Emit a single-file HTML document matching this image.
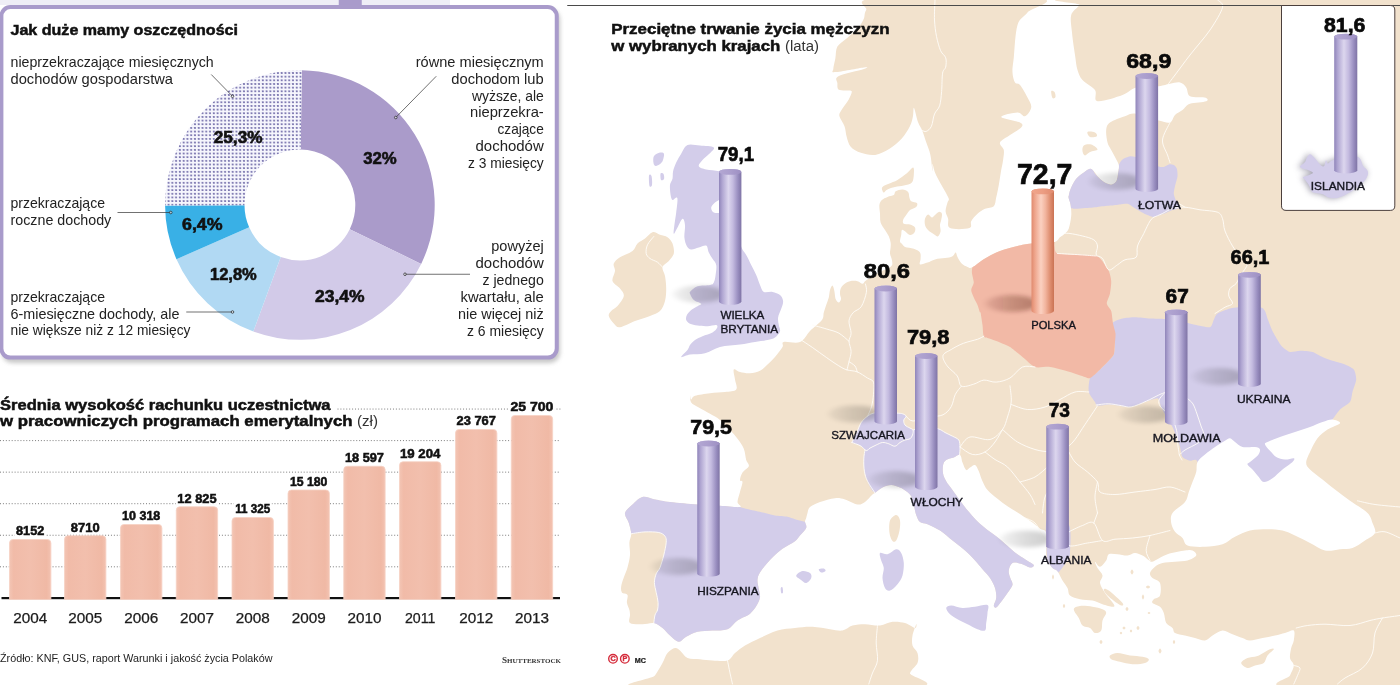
<!DOCTYPE html>
<html lang="pl"><head><meta charset="utf-8"><title>Infografika</title>
<style>
html,body{margin:0;padding:0;background:#ffffff;}
body{width:1400px;height:685px;overflow:hidden;font-family:"Liberation Sans", sans-serif;}
svg{display:block;font-family:"Liberation Sans", sans-serif;opacity:0.9999;}
</style></head><body>
<svg width="1400" height="685" viewBox="0 0 1400 685">
<defs>
<linearGradient id="gp" x1="0" x2="1" y1="0" y2="0">
 <stop offset="0" stop-color="#9085ba"/><stop offset="0.15" stop-color="#b0a6d2"/>
 <stop offset="0.42" stop-color="#dcd6ee"/><stop offset="0.62" stop-color="#c4bbe0"/>
 <stop offset="0.85" stop-color="#988dbf"/><stop offset="1" stop-color="#7f74a5"/>
</linearGradient>
<linearGradient id="gs" x1="0" x2="1" y1="0" y2="0">
 <stop offset="0" stop-color="#e08a6e"/><stop offset="0.15" stop-color="#eea58c"/>
 <stop offset="0.42" stop-color="#fbd1c1"/><stop offset="0.62" stop-color="#f2b59f"/>
 <stop offset="0.85" stop-color="#dc8a6c"/><stop offset="1" stop-color="#ca7354"/>
</linearGradient>
<linearGradient id="gsh" x1="0" x2="1" y1="0" y2="0">
 <stop offset="0" stop-color="#000" stop-opacity="0.25"/><stop offset="0.5" stop-color="#000" stop-opacity="0.7"/><stop offset="1" stop-color="#000" stop-opacity="1"/>
</linearGradient>
<linearGradient id="gshs" x1="0" x2="1" y1="0" y2="0">
 <stop offset="0" stop-color="#480c00" stop-opacity="0.25"/><stop offset="0.5" stop-color="#480c00" stop-opacity="0.7"/><stop offset="1" stop-color="#480c00" stop-opacity="1"/>
</linearGradient>
<linearGradient id="gcap" x1="0" x2="1" y1="0" y2="0">
 <stop offset="0" stop-color="#b3a7d3"/><stop offset="0.5" stop-color="#ab9ecd"/><stop offset="1" stop-color="#9d8fc3"/>
</linearGradient>
<linearGradient id="gcaps" x1="0" x2="1" y1="0" y2="0">
 <stop offset="0" stop-color="#f0a58b"/><stop offset="0.5" stop-color="#ec9d83"/><stop offset="1" stop-color="#e08a6e"/>
</linearGradient>
<linearGradient id="gbar" x1="0" x2="1" y1="0" y2="0">
 <stop offset="0" stop-color="#f3c5b4"/><stop offset="0.1" stop-color="#f1bba8"/><stop offset="0.5" stop-color="#f2bfad"/><stop offset="0.9" stop-color="#f0b9a5"/><stop offset="1" stop-color="#f3c3b2"/>
</linearGradient>
<pattern id="dots" width="3.77" height="3.66" patternUnits="userSpaceOnUse" x="0.87" y="1.61">
 <rect width="3.77" height="3.66" fill="#f6f6fd"/><rect x="0.9" y="0.9" width="1.9" height="1.9" rx="0.4" fill="#7570ac"/>
</pattern>
<filter id="blur3" x="-50%" y="-50%" width="200%" height="200%"><feGaussianBlur stdDeviation="3"/></filter>
<filter id="blur2" x="-50%" y="-50%" width="200%" height="200%"><feGaussianBlur stdDeviation="2"/></filter>
<filter id="blur4" x="-50%" y="-100%" width="200%" height="300%"><feGaussianBlur stdDeviation="3 2"/></filter>
<filter id="soft" x="-5%" y="-5%" width="110%" height="110%"><feGaussianBlur stdDeviation="0.45"/></filter>

<clipPath id="cmain"><path d="M1080.0,-2.0 C1023.2,0.5 1081.0,2.2 1079.5,5.0 C1078.0,7.8 1072.5,10.4 1071.2,15.0 C1070.0,19.6 1071.4,25.8 1072.0,32.5 C1072.6,39.2 1074.1,48.8 1075.0,55.0 C1075.9,61.2 1076.2,65.8 1077.5,70.0 C1078.8,74.2 1079.6,76.7 1082.5,80.0 C1085.4,83.3 1092.5,86.5 1095.0,90.0 C1097.5,93.5 1092.9,100.4 1097.5,101.2 C1102.1,102.1 1116.0,97.3 1122.5,95.0 C1129.0,92.7 1130.2,89.0 1136.2,87.5 C1142.3,86.0 1153.1,86.9 1158.8,86.2 C1164.4,85.6 1166.5,84.4 1170.0,83.8 C1173.5,83.1 1177.3,81.9 1180.0,82.5 C1182.7,83.1 1184.6,85.2 1186.2,87.5 C1187.9,89.8 1186.9,94.6 1190.0,96.2 C1193.1,97.9 1202.3,96.7 1205.0,97.5 C1207.7,98.3 1208.8,100.2 1206.2,101.2 C1203.8,102.3 1194.0,102.3 1190.0,103.8 C1186.0,105.2 1185.0,108.1 1182.5,110.0 C1180.0,111.9 1177.1,112.9 1175.0,115.0 C1172.9,117.1 1172.7,121.6 1170.0,122.5 C1167.3,123.4 1164.4,122.0 1158.8,120.5 C1153.1,119.0 1141.9,114.5 1136.2,113.8 C1130.6,113.0 1129.4,114.8 1125.0,116.2 C1120.6,117.7 1113.1,120.2 1110.0,122.5 C1106.9,124.8 1106.7,126.7 1106.2,130.0 C1105.8,133.3 1106.7,139.2 1107.5,142.5 C1108.3,145.8 1110.0,147.6 1111.2,150.0 C1112.5,152.4 1113.8,154.5 1115.0,157.0 C1116.2,159.5 1118.2,162.4 1118.8,165.0 C1119.3,167.6 1118.5,169.8 1118.1,172.5 C1117.7,175.2 1117.4,179.3 1116.2,181.2 C1115.1,183.2 1113.1,184.2 1111.2,184.4 C1109.4,184.6 1107.1,183.7 1105.0,182.5 C1102.9,181.3 1100.6,179.4 1098.8,177.5 C1096.9,175.6 1095.2,172.7 1093.8,171.2 C1092.3,169.8 1091.7,168.5 1090.0,168.8 C1088.3,169.0 1086.0,170.8 1083.8,172.5 C1081.5,174.2 1078.3,176.2 1076.2,178.8 C1074.2,181.2 1072.5,184.8 1071.2,187.5 C1070.0,190.2 1069.2,193.1 1068.8,195.0 C1068.3,196.9 1068.4,197.1 1068.8,198.8 C1069.1,200.4 1070.2,202.1 1070.6,205.0 C1071.0,207.9 1071.6,212.1 1071.2,216.0 C1070.9,219.9 1069.8,225.6 1068.8,228.5 C1067.7,231.4 1066.5,232.0 1065.0,233.5 C1063.5,235.0 1061.9,235.8 1060.0,237.2 C1058.1,238.7 1058.5,241.2 1053.8,242.2 C1049.0,243.3 1037.3,242.9 1031.2,243.5 C1025.2,244.1 1022.7,244.8 1017.5,246.0 C1012.3,247.2 1005.4,248.9 1000.0,251.0 C994.6,253.1 989.6,255.8 985.0,258.5 C980.4,261.2 975.4,265.9 972.5,267.2 C969.6,268.6 969.3,267.5 967.5,266.9 C965.7,266.3 963.5,265.4 961.9,263.8 C960.2,262.1 958.5,258.8 957.5,256.9 C956.5,255.0 956.5,252.6 955.6,252.5 C954.8,252.4 954.3,255.3 952.5,256.2 C950.7,257.2 947.9,257.6 945.0,258.1 C942.1,258.6 937.9,258.6 935.0,259.4 C932.1,260.1 930.0,261.7 927.5,262.5 C925.0,263.3 921.1,265.0 920.0,264.4 C918.9,263.8 920.6,260.7 920.6,258.8 C920.6,256.8 921.1,254.2 920.0,252.5 C918.9,250.8 916.2,249.7 913.8,248.8 C911.2,247.8 907.0,247.7 905.0,246.9 C903.0,246.0 902.7,244.7 901.9,243.8 C901.0,242.8 900.1,242.7 900.0,241.2 C899.9,239.8 900.9,236.9 901.2,235.0 C901.6,233.1 901.2,230.6 901.9,230.0 C902.5,229.4 903.6,230.4 905.0,231.2 C906.4,232.1 908.4,234.8 910.0,235.0 C911.6,235.2 913.5,233.8 914.4,232.5 C915.2,231.2 915.7,228.9 915.0,227.5 C914.3,226.1 911.9,225.0 910.0,224.4 C908.1,223.8 904.9,224.5 903.8,223.8 C902.6,223.0 902.7,221.5 903.1,220.0 C903.5,218.5 905.1,216.7 906.2,215.0 C907.4,213.3 908.3,211.4 910.0,210.0 C911.7,208.6 915.1,208.0 916.2,206.9 C917.4,205.7 917.7,204.1 916.9,203.1 C916.0,202.2 912.5,202.2 911.2,201.2 C910.0,200.3 909.9,199.1 909.4,197.5 C908.9,195.9 909.3,193.2 908.1,191.9 C907.0,190.5 904.6,189.5 902.5,189.4 C900.4,189.3 897.1,190.3 895.6,191.2 C894.2,192.2 895.1,194.1 893.8,195.0 C892.4,195.9 889.5,196.0 887.5,196.9 C885.5,197.7 883.2,198.6 881.9,200.0 C880.5,201.4 879.7,202.7 879.4,205.0 C879.1,207.3 879.8,210.8 880.0,213.8 C880.2,216.7 879.8,219.8 880.6,222.5 C881.5,225.2 883.6,227.7 885.0,230.0 C886.4,232.3 887.8,234.2 888.8,236.2 C889.7,238.3 890.3,240.6 890.6,242.5 C890.9,244.4 890.7,245.6 890.6,247.5 C890.5,249.4 889.8,251.7 890.0,253.8 C890.2,255.8 891.7,257.9 891.9,260.0 C892.1,262.1 893.2,264.2 891.2,266.2 C889.3,268.2 883.5,270.0 880.0,272.0 C876.5,274.0 872.5,276.5 870.0,278.0 C867.5,279.5 866.2,280.3 865.0,281.2 C863.8,282.2 863.8,283.8 862.5,283.8 C861.2,283.8 859.6,281.7 857.5,281.2 C855.4,280.8 852.3,280.7 850.0,281.2 C847.7,281.8 845.3,283.1 843.8,284.4 C842.2,285.6 841.2,287.1 840.6,288.8 C840.0,290.4 839.9,292.3 840.0,294.0 C840.1,295.7 841.2,297.6 841.0,299.0 C840.8,300.4 839.6,302.5 838.8,302.5 C837.9,302.5 836.3,300.9 835.6,299.0 C834.9,297.1 834.9,293.5 834.4,291.2 C833.9,289.0 833.2,285.8 832.5,285.6 C831.8,285.4 830.6,288.0 830.0,290.0 C829.4,292.0 829.4,295.0 828.8,297.5 C828.1,300.0 827.1,302.5 826.2,305.0 C825.4,307.5 824.5,310.0 823.8,312.5 C823.0,315.0 824.2,316.9 821.9,320.0 C819.6,323.1 813.6,327.3 810.0,331.0 C806.4,334.7 804.4,340.2 800.0,342.0 C795.6,343.8 786.7,341.2 783.8,342.0 C780.8,342.8 784.0,344.5 782.5,347.0 C781.0,349.5 777.5,354.1 775.0,357.0 C772.5,359.9 770.0,362.2 767.5,364.5 C765.0,366.8 762.9,369.3 760.0,370.8 C757.1,372.2 753.3,373.0 750.0,373.2 C746.7,373.5 742.7,372.6 740.0,372.0 C737.3,371.4 734.6,368.2 733.8,369.5 C732.9,370.8 734.6,376.2 735.0,379.5 C735.4,382.8 737.9,387.4 736.2,389.5 C734.6,391.6 729.4,391.4 725.0,392.0 C720.6,392.6 715.0,392.6 710.0,393.2 C705.0,393.9 698.1,394.7 695.0,395.8 C691.9,396.8 692.1,399.6 691.2,399.5 C690.4,399.4 690.0,394.5 690.0,395.0 C690.0,395.5 689.8,400.4 691.2,402.5 C692.7,404.6 695.6,405.6 698.8,407.5 C701.9,409.4 706.5,411.7 710.0,413.8 C713.5,415.8 716.7,417.3 720.0,420.0 C723.3,422.7 727.1,426.9 730.0,430.0 C732.9,433.1 735.2,435.6 737.5,438.8 C739.8,441.9 742.3,445.2 743.8,448.8 C745.2,452.3 745.4,457.1 746.2,460.0 C747.1,462.9 749.4,464.2 748.8,466.2 C748.1,468.3 744.0,470.2 742.5,472.5 C741.0,474.8 740.0,478.4 740.0,480.0 C740.0,481.6 742.5,480.0 742.5,482.0 C742.5,484.0 740.8,488.7 740.0,492.0 C739.2,495.3 737.5,499.5 737.5,502.0 C737.5,504.5 742.9,506.4 740.0,507.0 C737.1,507.6 727.1,506.2 720.0,505.8 C712.9,505.3 705.8,505.1 697.5,504.5 C689.2,503.9 677.1,502.8 670.0,502.0 C662.9,501.2 659.6,500.3 655.0,499.5 C650.4,498.7 646.2,496.2 642.5,497.0 C638.8,497.8 635.4,501.8 632.5,504.5 C629.6,507.2 625.6,509.9 625.0,513.0 C624.4,516.1 627.7,519.5 628.8,523.0 C629.8,526.5 631.1,530.5 631.2,533.8 C631.4,537.0 629.6,539.0 629.4,542.5 C629.2,546.0 630.3,550.8 630.0,555.0 C629.7,559.2 628.5,563.8 627.5,567.5 C626.5,571.2 624.8,574.4 623.8,577.5 C622.7,580.6 621.6,583.8 621.2,586.2 C620.9,588.8 620.9,591.0 621.9,592.5 C622.9,594.0 626.7,593.3 627.5,595.0 C628.3,596.7 626.6,600.0 626.9,602.5 C627.2,605.0 628.9,607.9 629.4,610.0 C629.9,612.1 629.9,612.8 630.0,615.0 C630.1,617.2 627.9,621.5 630.0,623.0 C632.1,624.5 638.5,624.2 642.5,624.2 C646.5,624.2 650.4,622.4 653.8,623.0 C657.1,623.6 659.8,625.9 662.5,628.0 C665.2,630.1 667.3,633.2 670.0,635.5 C672.7,637.8 676.0,641.5 678.8,641.8 C681.5,642.0 683.1,638.4 686.2,636.8 C689.4,635.1 693.1,632.8 697.5,631.8 C701.9,630.7 707.5,630.9 712.5,630.5 C717.5,630.1 723.3,630.9 727.5,629.2 C731.7,627.6 734.2,622.8 737.5,620.5 C740.8,618.2 745.2,616.8 747.5,615.5 C749.8,614.2 749.8,614.0 751.2,612.5 C752.7,611.0 754.8,608.8 756.2,606.2 C757.7,603.8 759.6,600.4 760.0,597.5 C760.4,594.6 759.2,591.7 758.8,588.8 C758.3,585.8 757.3,582.7 757.5,580.0 C757.7,577.3 757.9,575.8 760.0,572.5 C762.1,569.2 766.2,564.0 770.0,560.0 C773.8,556.0 778.3,551.9 782.5,548.8 C786.7,545.6 792.1,543.5 795.0,541.2 C797.9,539.0 798.1,537.7 800.0,535.5 C801.9,533.3 805.4,530.3 806.2,528.0 C807.1,525.7 805.0,523.4 805.0,521.8 C805.0,520.1 805.8,519.5 806.2,518.0 C806.7,516.5 806.9,514.8 807.5,513.0 C808.1,511.2 807.9,508.8 810.0,507.0 C812.1,505.2 815.8,503.5 820.0,502.0 C824.2,500.5 830.8,498.7 835.0,498.2 C839.2,497.8 841.2,498.5 845.0,499.5 C848.8,500.5 854.2,504.1 857.5,504.5 C860.8,504.9 862.5,503.7 865.0,502.0 C867.5,500.3 870.8,496.0 872.5,494.5 C874.2,493.0 873.3,494.2 875.0,493.0 C876.7,491.8 879.8,488.8 882.5,487.5 C885.2,486.2 888.3,485.0 891.2,485.0 C894.2,485.0 897.5,486.5 900.0,487.5 C902.5,488.5 904.4,489.8 906.2,491.2 C908.1,492.7 910.0,494.0 911.2,496.2 C912.5,498.5 912.9,501.9 913.8,505.0 C914.6,508.1 915.2,512.2 916.2,515.0 C917.3,517.8 918.1,520.5 920.0,522.0 C921.9,523.5 924.2,522.8 927.5,524.2 C930.8,525.7 935.8,527.8 940.0,530.5 C944.2,533.2 948.3,537.2 952.5,540.5 C956.7,543.8 961.2,547.2 965.0,550.5 C968.8,553.8 972.1,557.4 975.0,560.5 C977.9,563.6 980.0,566.3 982.5,569.2 C985.0,572.2 987.9,574.9 990.0,578.0 C992.1,581.1 994.0,584.7 995.0,588.0 C996.0,591.3 996.5,595.1 996.2,598.0 C996.0,600.9 993.8,603.9 993.8,605.5 C993.8,607.1 995.0,608.1 996.2,607.5 C997.5,606.9 999.4,604.2 1001.2,601.8 C1003.1,599.3 1005.6,595.8 1007.5,593.0 C1009.4,590.2 1012.0,587.4 1012.5,585.0 C1013.0,582.6 1011.2,580.8 1010.6,578.8 C1010.0,576.7 1008.9,574.6 1008.8,572.5 C1008.6,570.4 1009.2,567.9 1010.0,566.2 C1010.8,564.6 1011.9,562.9 1013.8,562.5 C1015.6,562.1 1018.5,562.9 1021.2,563.8 C1024.0,564.6 1027.9,567.3 1030.0,567.5 C1032.1,567.7 1034.4,566.2 1033.8,565.0 C1033.1,563.8 1029.4,562.1 1026.2,560.0 C1023.1,557.9 1018.5,555.2 1015.0,552.5 C1011.5,549.8 1008.1,546.5 1005.0,543.8 C1001.9,541.0 999.2,538.5 996.2,536.2 C993.3,534.0 990.2,532.1 987.5,530.0 C984.8,527.9 982.3,525.8 980.0,523.8 C977.7,521.7 976.0,520.0 973.8,517.5 C971.5,515.0 968.8,511.9 966.2,508.8 C963.8,505.6 961.0,501.9 958.8,498.8 C956.5,495.6 954.6,492.9 952.5,490.0 C950.4,487.1 947.8,484.0 946.2,481.2 C944.7,478.5 943.6,476.5 943.1,473.8 C942.6,471.0 942.6,467.3 943.1,465.0 C943.6,462.7 944.5,461.2 946.2,460.0 C948.0,458.8 951.5,458.3 953.8,457.5 C956.0,456.7 958.5,454.2 960.0,455.0 C961.5,455.8 961.5,460.0 962.5,462.5 C963.5,465.0 965.0,469.2 966.2,470.0 C967.5,470.8 968.5,468.3 970.0,467.5 C971.5,466.7 973.5,464.4 975.0,465.0 C976.5,465.6 977.5,468.5 978.8,471.2 C980.0,474.0 981.0,478.1 982.5,481.2 C984.0,484.4 985.0,487.1 987.5,490.0 C990.0,492.9 994.2,496.0 997.5,498.8 C1000.8,501.5 1004.2,504.0 1007.5,506.2 C1010.8,508.5 1014.6,510.6 1017.5,512.5 C1020.4,514.4 1022.5,515.8 1025.0,517.5 C1027.5,519.2 1030.0,520.6 1032.5,522.5 C1035.0,524.4 1037.7,527.1 1040.0,528.8 C1042.3,530.4 1045.2,529.2 1046.2,532.5 C1047.3,535.8 1046.2,545.0 1046.2,548.8 C1046.2,552.5 1045.9,552.9 1046.2,555.0 C1046.6,557.1 1047.1,559.1 1048.1,561.2 C1049.1,563.4 1050.9,566.4 1052.5,568.1 C1054.1,569.8 1055.8,569.2 1057.5,571.2 C1059.2,573.3 1060.8,577.7 1062.5,580.5 C1064.2,583.3 1066.2,585.5 1067.5,588.0 C1068.8,590.5 1067.9,593.6 1070.0,595.5 C1072.1,597.4 1076.2,598.4 1080.0,599.2 C1083.8,600.1 1088.8,599.7 1092.5,600.5 C1096.2,601.3 1099.2,603.2 1102.5,604.2 C1105.8,605.3 1110.6,606.8 1112.5,606.8 C1114.4,606.8 1115.0,606.5 1113.8,604.2 C1112.5,602.0 1107.3,596.5 1105.0,593.0 C1102.7,589.5 1100.4,585.9 1100.0,583.0 C1099.6,580.1 1102.9,578.0 1102.5,575.5 C1102.1,573.0 1098.8,570.3 1097.5,568.0 C1096.2,565.7 1094.6,562.0 1095.0,561.8 C1095.4,561.5 1098.1,567.0 1100.0,566.8 C1101.9,566.5 1104.8,562.6 1106.2,560.5 C1107.7,558.4 1106.9,555.3 1108.8,554.2 C1110.6,553.2 1114.4,554.0 1117.5,554.2 C1120.6,554.5 1124.6,555.7 1127.5,555.5 C1130.4,555.3 1132.5,553.0 1135.0,553.0 C1137.5,553.0 1140.4,554.5 1142.5,555.5 C1144.6,556.5 1146.0,558.2 1147.5,559.2 C1149.0,560.3 1150.0,561.5 1151.2,561.8 C1152.5,562.0 1152.3,561.8 1155.0,560.5 C1157.7,559.2 1162.5,555.9 1167.5,554.2 C1172.5,552.6 1180.8,551.1 1185.0,550.5 C1189.2,549.9 1190.6,549.7 1192.5,550.5 C1194.4,551.3 1197.1,553.8 1196.2,555.5 C1195.4,557.2 1191.0,559.5 1187.5,560.5 C1184.0,561.5 1179.2,561.3 1175.0,561.8 C1170.8,562.2 1165.8,562.2 1162.5,563.0 C1159.2,563.8 1157.1,565.1 1155.0,566.8 C1152.9,568.4 1150.4,571.1 1150.0,573.0 C1149.6,574.9 1150.8,576.3 1152.5,578.0 C1154.2,579.7 1158.8,580.1 1160.0,583.0 C1161.2,585.9 1161.0,592.8 1160.0,595.5 C1159.0,598.2 1155.0,598.0 1153.8,599.2 C1152.5,600.5 1151.5,601.8 1152.5,603.0 C1153.5,604.2 1158.1,605.1 1160.0,606.8 C1161.9,608.4 1162.7,610.3 1163.8,613.0 C1164.8,615.7 1164.8,620.5 1166.2,623.0 C1167.7,625.5 1171.0,626.3 1172.5,628.0 C1174.0,629.7 1172.9,631.8 1175.0,633.0 C1177.1,634.2 1181.7,634.7 1185.0,635.5 C1188.3,636.3 1191.7,637.2 1195.0,638.0 C1198.3,638.8 1202.1,640.9 1205.0,640.5 C1207.9,640.1 1209.6,637.2 1212.5,635.5 C1215.4,633.8 1219.2,630.7 1222.5,630.5 C1225.8,630.3 1229.2,633.0 1232.5,634.2 C1235.8,635.5 1239.6,637.0 1242.5,638.0 C1245.4,639.0 1246.7,640.5 1250.0,640.5 C1253.3,640.5 1258.3,638.8 1262.5,638.0 C1266.7,637.2 1271.2,636.3 1275.0,635.5 C1278.8,634.7 1281.9,633.8 1285.0,633.0 C1288.1,632.2 1292.3,629.2 1293.8,630.5 C1295.2,631.8 1294.2,637.6 1293.8,640.5 C1293.3,643.4 1291.9,645.1 1291.2,648.0 C1290.6,650.9 1289.6,655.1 1290.0,658.0 C1290.4,660.9 1293.8,662.6 1293.8,665.5 C1293.8,668.4 1291.5,671.8 1290.0,675.5 C1288.5,679.2 1263.3,683.9 1285.0,688.0 C1306.7,692.1 1397.5,816.3 1420.0,700.0 C1442.5,583.7 1476.7,107.0 1420.0,-10.0 C1363.3,-127.0 1136.8,-4.5 1080.0,-2.0Z"/></clipPath>
<clipPath id="cmap"><rect x="566" y="0" width="834" height="685"/></clipPath>
</defs>
<rect x="0" y="0" width="450" height="5" fill="#efeef6"/>
<rect x="338.75" y="0" width="23" height="6" fill="#a99bcb"/>
<rect x="2" y="9" width="558" height="354" rx="10" fill="#9a9a9a" opacity="0.55" filter="url(#blur2)"/>
<rect x="1.4" y="7.1" width="555.35" height="350.5" rx="9" fill="#ffffff" stroke="#a99bcb" stroke-width="4"/>
<text x="10.50" y="34.50" font-size="15" font-weight="bold" stroke="#111" stroke-width="0.5" text-anchor="start" textLength="227.50" lengthAdjust="spacingAndGlyphs" fill="#111" >Jak duże mamy oszczędności</text>
<path d="M301.78,70.21 A134.8,134.8 0 0 1 421.16,263.88 L349.74,229.20 A55.4,55.4 0 0 0 300.67,149.61Z" fill="#aa9bca"/>
<path d="M421.16,263.88 A134.8,134.8 0 0 1 253.35,331.51 L280.77,256.99 A55.4,55.4 0 0 0 349.74,229.20Z" fill="#d2cae8"/>
<path d="M253.35,331.51 A134.8,134.8 0 0 1 176.47,259.18 L249.17,227.27 A55.4,55.4 0 0 0 280.77,256.99Z" fill="#b1d9f3"/>
<path d="M176.47,259.18 A134.8,134.8 0 0 1 165.10,205.47 L244.50,205.19 A55.4,55.4 0 0 0 249.17,227.27Z" fill="#39b0e6"/>
<path d="M165.10,205.47 A134.8,134.8 0 0 1 301.78,70.21 L300.67,149.61 A55.4,55.4 0 0 0 244.50,205.19Z" fill="url(#dots)"/>
<text x="213.75" y="143.00" font-size="16" font-weight="bold" stroke="#111" stroke-width="0.6" text-anchor="start" textLength="48.75" lengthAdjust="spacingAndGlyphs" fill="#111" >25,3%</text>
<text x="363.25" y="164.25" font-size="16" font-weight="bold" stroke="#111" stroke-width="0.6" text-anchor="start" textLength="33.50" lengthAdjust="spacingAndGlyphs" fill="#111" >32%</text>
<text x="182.00" y="230.00" font-size="16" font-weight="bold" stroke="#111" stroke-width="0.6" text-anchor="start" textLength="40.50" lengthAdjust="spacingAndGlyphs" fill="#111" >6,4%</text>
<text x="210.00" y="280.00" font-size="16" font-weight="bold" stroke="#111" stroke-width="0.6" text-anchor="start" textLength="46.75" lengthAdjust="spacingAndGlyphs" fill="#111" >12,8%</text>
<text x="315.00" y="301.75" font-size="16" font-weight="bold" stroke="#111" stroke-width="0.6" text-anchor="start" textLength="49.50" lengthAdjust="spacingAndGlyphs" fill="#111" >23,4%</text>
<text x="10.50" y="67.00" font-size="14.8" text-anchor="start" textLength="203.25" lengthAdjust="spacingAndGlyphs" fill="#222" >nieprzekraczające miesięcznych</text>
<text x="10.50" y="83.75" font-size="14.8" text-anchor="start" textLength="162.50" lengthAdjust="spacingAndGlyphs" fill="#222" >dochodów gospodarstwa</text>
<text x="10.50" y="208.00" font-size="14.8" text-anchor="start" textLength="94.50" lengthAdjust="spacingAndGlyphs" fill="#222" >przekraczające</text>
<text x="10.50" y="224.50" font-size="14.8" text-anchor="start" textLength="100.75" lengthAdjust="spacingAndGlyphs" fill="#222" >roczne dochody</text>
<text x="10.50" y="302.00" font-size="14.8" text-anchor="start" textLength="94.50" lengthAdjust="spacingAndGlyphs" fill="#222" >przekraczające</text>
<text x="10.50" y="318.75" font-size="14.8" text-anchor="start" textLength="169.00" lengthAdjust="spacingAndGlyphs" fill="#222" >6-miesięczne dochody, ale</text>
<text x="10.50" y="335.00" font-size="14.8" text-anchor="start" textLength="180.00" lengthAdjust="spacingAndGlyphs" fill="#222" >nie większe niż z 12 miesięcy</text>
<text x="415.75" y="67.00" font-size="14.8" text-anchor="start" textLength="128.00" lengthAdjust="spacingAndGlyphs" fill="#222" >równe miesięcznym</text>
<text x="451.25" y="83.75" font-size="14.8" text-anchor="start" textLength="92.50" lengthAdjust="spacingAndGlyphs" fill="#222" >dochodom lub</text>
<text x="472.00" y="100.50" font-size="14.8" text-anchor="start" textLength="71.75" lengthAdjust="spacingAndGlyphs" fill="#222" >wyższe, ale</text>
<text x="470.00" y="117.25" font-size="14.8" text-anchor="start" textLength="73.75" lengthAdjust="spacingAndGlyphs" fill="#222" >nieprzekra-</text>
<text x="497.50" y="134.00" font-size="14.8" text-anchor="start" textLength="46.25" lengthAdjust="spacingAndGlyphs" fill="#222" >czające</text>
<text x="475.50" y="150.75" font-size="14.8" text-anchor="start" textLength="68.25" lengthAdjust="spacingAndGlyphs" fill="#222" >dochodów</text>
<text x="468.00" y="167.50" font-size="14.8" text-anchor="start" textLength="75.75" lengthAdjust="spacingAndGlyphs" fill="#222" >z 3 miesięcy</text>
<text x="491.25" y="251.25" font-size="14.8" text-anchor="start" textLength="52.50" lengthAdjust="spacingAndGlyphs" fill="#222" >powyżej</text>
<text x="475.50" y="268.25" font-size="14.8" text-anchor="start" textLength="68.25" lengthAdjust="spacingAndGlyphs" fill="#222" >dochodów</text>
<text x="482.50" y="285.00" font-size="14.8" text-anchor="start" textLength="61.25" lengthAdjust="spacingAndGlyphs" fill="#222" >z jednego</text>
<text x="460.50" y="301.75" font-size="14.8" text-anchor="start" textLength="83.25" lengthAdjust="spacingAndGlyphs" fill="#222" >kwartału, ale</text>
<text x="458.00" y="318.75" font-size="14.8" text-anchor="start" textLength="85.75" lengthAdjust="spacingAndGlyphs" fill="#222" >nie więcej niż</text>
<text x="467.00" y="335.50" font-size="14.8" text-anchor="start" textLength="76.75" lengthAdjust="spacingAndGlyphs" fill="#222" >z 6 miesięcy</text>
<line x1="211.25" y1="74.5" x2="232.5" y2="96.25" stroke="#333" stroke-width="0.7"/><circle cx="232.5" cy="96.25" r="1.3" fill="#fff" fill-opacity="0.6" stroke="#222" stroke-width="0.7"/>
<line x1="117.5" y1="212.5" x2="170.75" y2="212.5" stroke="#333" stroke-width="0.7"/><circle cx="170.75" cy="212.5" r="1.3" fill="#fff" fill-opacity="0.6" stroke="#222" stroke-width="0.7"/>
<line x1="186.25" y1="312" x2="232.5" y2="312" stroke="#333" stroke-width="0.7"/><circle cx="232.5" cy="312" r="1.3" fill="#fff" fill-opacity="0.6" stroke="#222" stroke-width="0.7"/>
<line x1="436.25" y1="76.25" x2="395.75" y2="117.5" stroke="#333" stroke-width="0.7"/><circle cx="395.75" cy="117.5" r="1.3" fill="#fff" fill-opacity="0.6" stroke="#222" stroke-width="0.7"/>
<line x1="470" y1="274.25" x2="405" y2="274.25" stroke="#333" stroke-width="0.7"/><circle cx="405" cy="274.25" r="1.3" fill="#fff" fill-opacity="0.6" stroke="#222" stroke-width="0.7"/>
<text x="0.00" y="410.00" font-size="15" font-weight="bold" stroke="#111" stroke-width="0.5" text-anchor="start" textLength="330.50" lengthAdjust="spacingAndGlyphs" fill="#111" >Średnia wysokość rachunku uczestnictwa</text>
<text x="0.00" y="426.25" font-size="15" font-weight="bold" stroke="#111" stroke-width="0.5" text-anchor="start" textLength="352.50" lengthAdjust="spacingAndGlyphs" fill="#111" >w pracowniczych programach emerytalnych</text>
<text x="357.00" y="426.25" font-size="14" text-anchor="start" textLength="21.00" lengthAdjust="spacingAndGlyphs" fill="#333" >(zł)</text>
<line x1="337.5" y1="409.05" x2="560.5" y2="409.05" stroke="#7c7c7c" stroke-width="1" stroke-dasharray="1 1.92"/>
<line x1="0" y1="440.6" x2="560.5" y2="440.6" stroke="#7c7c7c" stroke-width="1" stroke-dasharray="1 1.92"/>
<line x1="0" y1="472.15" x2="560.5" y2="472.15" stroke="#7c7c7c" stroke-width="1" stroke-dasharray="1 1.92"/>
<line x1="0" y1="503.7" x2="560.5" y2="503.7" stroke="#7c7c7c" stroke-width="1" stroke-dasharray="1 1.92"/>
<line x1="0" y1="535.25" x2="560.5" y2="535.25" stroke="#7c7c7c" stroke-width="1" stroke-dasharray="1 1.92"/>
<line x1="0" y1="566.8" x2="560.5" y2="566.8" stroke="#7c7c7c" stroke-width="1" stroke-dasharray="1 1.92"/>
<rect x="1.5" y="597" width="558.5" height="2.2" fill="#111"/>
<path d="M9.5,599.5 L9.5,543.0 Q9.5,539.5 13.0,539.5 L47.4,539.5 Q50.9,539.5 50.9,543.0 L50.9,599.5Z" fill="url(#gbar)" stroke="#f6d2c4" stroke-width="0.8"/>
<rect x="14.57" y="524.5" width="31.25" height="13" fill="#fff"/>
<text x="16.07" y="535.25" font-size="12.8" font-weight="bold" stroke="#111" stroke-width="0.55" text-anchor="start" textLength="28.25" lengthAdjust="spacingAndGlyphs" fill="#111" >8152</text>
<text x="13.20" y="622.75" font-size="13.8" text-anchor="start" textLength="34.00" lengthAdjust="spacingAndGlyphs" fill="#1c1c1c" stroke="#1c1c1c" stroke-width="0.25">2004</text>
<path d="M64.5,599.5 L64.5,539.25 Q64.5,535.75 68.0,535.75 L102.4,535.75 Q105.9,535.75 105.9,539.25 L105.9,599.5Z" fill="url(#gbar)" stroke="#f6d2c4" stroke-width="0.8"/>
<rect x="69.33" y="520.75" width="31.75" height="13" fill="#fff"/>
<text x="70.83" y="531.50" font-size="12.8" font-weight="bold" stroke="#111" stroke-width="0.55" text-anchor="start" textLength="28.75" lengthAdjust="spacingAndGlyphs" fill="#111" >8710</text>
<text x="68.20" y="622.75" font-size="13.8" text-anchor="start" textLength="34.00" lengthAdjust="spacingAndGlyphs" fill="#1c1c1c" stroke="#1c1c1c" stroke-width="0.25">2005</text>
<path d="M120.5,599.5 L120.5,528.0 Q120.5,524.5 124.0,524.5 L158.4,524.5 Q161.9,524.5 161.9,528.0 L161.9,599.5Z" fill="url(#gbar)" stroke="#f6d2c4" stroke-width="0.8"/>
<rect x="120.57" y="509.5" width="41.25" height="13" fill="#fff"/>
<text x="122.07" y="520.25" font-size="12.8" font-weight="bold" stroke="#111" stroke-width="0.55" text-anchor="start" textLength="38.25" lengthAdjust="spacingAndGlyphs" fill="#111" >10 318</text>
<text x="124.20" y="622.75" font-size="13.8" text-anchor="start" textLength="34.00" lengthAdjust="spacingAndGlyphs" fill="#1c1c1c" stroke="#1c1c1c" stroke-width="0.25">2006</text>
<path d="M176.25,599.5 L176.25,510.25 Q176.25,506.75 179.75,506.75 L214.15,506.75 Q217.65,506.75 217.65,510.25 L217.65,599.5Z" fill="url(#gbar)" stroke="#f6d2c4" stroke-width="0.8"/>
<rect x="175.82" y="491.75" width="42.25" height="13" fill="#fff"/>
<text x="177.32" y="502.50" font-size="12.8" font-weight="bold" stroke="#111" stroke-width="0.55" text-anchor="start" textLength="39.25" lengthAdjust="spacingAndGlyphs" fill="#111" >12 825</text>
<text x="179.95" y="622.75" font-size="13.8" text-anchor="start" textLength="34.00" lengthAdjust="spacingAndGlyphs" fill="#1c1c1c" stroke="#1c1c1c" stroke-width="0.25">2007</text>
<path d="M232,599.5 L232,521.0 Q232,517.5 235.5,517.5 L269.9,517.5 Q273.4,517.5 273.4,521.0 L273.4,599.5Z" fill="url(#gbar)" stroke="#f6d2c4" stroke-width="0.8"/>
<rect x="233.70" y="502.5" width="38.00" height="13" fill="#fff"/>
<text x="235.20" y="513.25" font-size="12.8" font-weight="bold" stroke="#111" stroke-width="0.55" text-anchor="start" textLength="35.00" lengthAdjust="spacingAndGlyphs" fill="#111" >11 325</text>
<text x="235.70" y="622.75" font-size="13.8" text-anchor="start" textLength="34.00" lengthAdjust="spacingAndGlyphs" fill="#1c1c1c" stroke="#1c1c1c" stroke-width="0.25">2008</text>
<path d="M288,599.5 L288,493.5 Q288,490 291.5,490 L325.9,490 Q329.4,490 329.4,493.5 L329.4,599.5Z" fill="url(#gbar)" stroke="#f6d2c4" stroke-width="0.8"/>
<rect x="288.45" y="475" width="40.50" height="13" fill="#fff"/>
<text x="289.95" y="485.75" font-size="12.8" font-weight="bold" stroke="#111" stroke-width="0.55" text-anchor="start" textLength="37.50" lengthAdjust="spacingAndGlyphs" fill="#111" >15 180</text>
<text x="291.70" y="622.75" font-size="13.8" text-anchor="start" textLength="34.00" lengthAdjust="spacingAndGlyphs" fill="#1c1c1c" stroke="#1c1c1c" stroke-width="0.25">2009</text>
<path d="M343.75,599.5 L343.75,469.75 Q343.75,466.25 347.25,466.25 L381.65,466.25 Q385.15,466.25 385.15,469.75 L385.15,599.5Z" fill="url(#gbar)" stroke="#f6d2c4" stroke-width="0.8"/>
<rect x="343.45" y="451.25" width="42.00" height="13" fill="#fff"/>
<text x="344.95" y="462.00" font-size="12.8" font-weight="bold" stroke="#111" stroke-width="0.55" text-anchor="start" textLength="39.00" lengthAdjust="spacingAndGlyphs" fill="#111" >18 597</text>
<text x="347.45" y="622.75" font-size="13.8" text-anchor="start" textLength="34.00" lengthAdjust="spacingAndGlyphs" fill="#1c1c1c" stroke="#1c1c1c" stroke-width="0.25">2010</text>
<path d="M399.5,599.5 L399.5,465.25 Q399.5,461.75 403.0,461.75 L437.4,461.75 Q440.9,461.75 440.9,465.25 L440.9,599.5Z" fill="url(#gbar)" stroke="#f6d2c4" stroke-width="0.8"/>
<rect x="398.45" y="446.75" width="43.50" height="13" fill="#fff"/>
<text x="399.95" y="457.50" font-size="12.8" font-weight="bold" stroke="#111" stroke-width="0.55" text-anchor="start" textLength="40.50" lengthAdjust="spacingAndGlyphs" fill="#111" >19 204</text>
<text x="404.95" y="622.75" font-size="13.8" text-anchor="start" textLength="30.50" lengthAdjust="spacingAndGlyphs" fill="#1c1c1c" stroke="#1c1c1c" stroke-width="0.25">2011</text>
<path d="M455.5,599.5 L455.5,433.0 Q455.5,429.5 459.0,429.5 L493.4,429.5 Q496.9,429.5 496.9,433.0 L496.9,599.5Z" fill="url(#gbar)" stroke="#f6d2c4" stroke-width="0.8"/>
<rect x="455.07" y="414.5" width="42.25" height="13" fill="#fff"/>
<text x="456.57" y="425.25" font-size="12.8" font-weight="bold" stroke="#111" stroke-width="0.55" text-anchor="start" textLength="39.25" lengthAdjust="spacingAndGlyphs" fill="#111" >23 767</text>
<text x="459.20" y="622.75" font-size="13.8" text-anchor="start" textLength="34.00" lengthAdjust="spacingAndGlyphs" fill="#1c1c1c" stroke="#1c1c1c" stroke-width="0.25">2012</text>
<path d="M511.25,599.5 L511.25,419.0 Q511.25,415.5 514.75,415.5 L549.15,415.5 Q552.65,415.5 552.65,419.0 L552.65,599.5Z" fill="url(#gbar)" stroke="#f6d2c4" stroke-width="0.8"/>
<rect x="508.95" y="400.5" width="46.00" height="13" fill="#fff"/>
<text x="510.45" y="411.25" font-size="12.8" font-weight="bold" stroke="#111" stroke-width="0.55" text-anchor="start" textLength="43.00" lengthAdjust="spacingAndGlyphs" fill="#111" >25 700</text>
<text x="514.95" y="622.75" font-size="13.8" text-anchor="start" textLength="34.00" lengthAdjust="spacingAndGlyphs" fill="#1c1c1c" stroke="#1c1c1c" stroke-width="0.25">2013</text>
<text x="0.00" y="662.00" font-size="10.3" text-anchor="start" textLength="272.50" lengthAdjust="spacingAndGlyphs" fill="#222" >Źródło: KNF, GUS, raport Warunki i jakość życia Polaków</text>
<text x="502" y="663" font-family='"Liberation Serif", serif' font-weight="bold" font-size="8.6" textLength="59" lengthAdjust="spacingAndGlyphs" fill="#333">S<tspan font-size="6.6">HUTTERSTOCK</tspan></text>
<g clip-path="url(#cmap)">
<g filter="url(#soft)">
<path d="M1080.0,-2.0 C1023.2,0.5 1081.0,2.2 1079.5,5.0 C1078.0,7.8 1072.5,10.4 1071.2,15.0 C1070.0,19.6 1071.4,25.8 1072.0,32.5 C1072.6,39.2 1074.1,48.8 1075.0,55.0 C1075.9,61.2 1076.2,65.8 1077.5,70.0 C1078.8,74.2 1079.6,76.7 1082.5,80.0 C1085.4,83.3 1092.5,86.5 1095.0,90.0 C1097.5,93.5 1092.9,100.4 1097.5,101.2 C1102.1,102.1 1116.0,97.3 1122.5,95.0 C1129.0,92.7 1130.2,89.0 1136.2,87.5 C1142.3,86.0 1153.1,86.9 1158.8,86.2 C1164.4,85.6 1166.5,84.4 1170.0,83.8 C1173.5,83.1 1177.3,81.9 1180.0,82.5 C1182.7,83.1 1184.6,85.2 1186.2,87.5 C1187.9,89.8 1186.9,94.6 1190.0,96.2 C1193.1,97.9 1202.3,96.7 1205.0,97.5 C1207.7,98.3 1208.8,100.2 1206.2,101.2 C1203.8,102.3 1194.0,102.3 1190.0,103.8 C1186.0,105.2 1185.0,108.1 1182.5,110.0 C1180.0,111.9 1177.1,112.9 1175.0,115.0 C1172.9,117.1 1172.7,121.6 1170.0,122.5 C1167.3,123.4 1164.4,122.0 1158.8,120.5 C1153.1,119.0 1141.9,114.5 1136.2,113.8 C1130.6,113.0 1129.4,114.8 1125.0,116.2 C1120.6,117.7 1113.1,120.2 1110.0,122.5 C1106.9,124.8 1106.7,126.7 1106.2,130.0 C1105.8,133.3 1106.7,139.2 1107.5,142.5 C1108.3,145.8 1110.0,147.6 1111.2,150.0 C1112.5,152.4 1113.8,154.5 1115.0,157.0 C1116.2,159.5 1118.2,162.4 1118.8,165.0 C1119.3,167.6 1118.5,169.8 1118.1,172.5 C1117.7,175.2 1117.4,179.3 1116.2,181.2 C1115.1,183.2 1113.1,184.2 1111.2,184.4 C1109.4,184.6 1107.1,183.7 1105.0,182.5 C1102.9,181.3 1100.6,179.4 1098.8,177.5 C1096.9,175.6 1095.2,172.7 1093.8,171.2 C1092.3,169.8 1091.7,168.5 1090.0,168.8 C1088.3,169.0 1086.0,170.8 1083.8,172.5 C1081.5,174.2 1078.3,176.2 1076.2,178.8 C1074.2,181.2 1072.5,184.8 1071.2,187.5 C1070.0,190.2 1069.2,193.1 1068.8,195.0 C1068.3,196.9 1068.4,197.1 1068.8,198.8 C1069.1,200.4 1070.2,202.1 1070.6,205.0 C1071.0,207.9 1071.6,212.1 1071.2,216.0 C1070.9,219.9 1069.8,225.6 1068.8,228.5 C1067.7,231.4 1066.5,232.0 1065.0,233.5 C1063.5,235.0 1061.9,235.8 1060.0,237.2 C1058.1,238.7 1058.5,241.2 1053.8,242.2 C1049.0,243.3 1037.3,242.9 1031.2,243.5 C1025.2,244.1 1022.7,244.8 1017.5,246.0 C1012.3,247.2 1005.4,248.9 1000.0,251.0 C994.6,253.1 989.6,255.8 985.0,258.5 C980.4,261.2 975.4,265.9 972.5,267.2 C969.6,268.6 969.3,267.5 967.5,266.9 C965.7,266.3 963.5,265.4 961.9,263.8 C960.2,262.1 958.5,258.8 957.5,256.9 C956.5,255.0 956.5,252.6 955.6,252.5 C954.8,252.4 954.3,255.3 952.5,256.2 C950.7,257.2 947.9,257.6 945.0,258.1 C942.1,258.6 937.9,258.6 935.0,259.4 C932.1,260.1 930.0,261.7 927.5,262.5 C925.0,263.3 921.1,265.0 920.0,264.4 C918.9,263.8 920.6,260.7 920.6,258.8 C920.6,256.8 921.1,254.2 920.0,252.5 C918.9,250.8 916.2,249.7 913.8,248.8 C911.2,247.8 907.0,247.7 905.0,246.9 C903.0,246.0 902.7,244.7 901.9,243.8 C901.0,242.8 900.1,242.7 900.0,241.2 C899.9,239.8 900.9,236.9 901.2,235.0 C901.6,233.1 901.2,230.6 901.9,230.0 C902.5,229.4 903.6,230.4 905.0,231.2 C906.4,232.1 908.4,234.8 910.0,235.0 C911.6,235.2 913.5,233.8 914.4,232.5 C915.2,231.2 915.7,228.9 915.0,227.5 C914.3,226.1 911.9,225.0 910.0,224.4 C908.1,223.8 904.9,224.5 903.8,223.8 C902.6,223.0 902.7,221.5 903.1,220.0 C903.5,218.5 905.1,216.7 906.2,215.0 C907.4,213.3 908.3,211.4 910.0,210.0 C911.7,208.6 915.1,208.0 916.2,206.9 C917.4,205.7 917.7,204.1 916.9,203.1 C916.0,202.2 912.5,202.2 911.2,201.2 C910.0,200.3 909.9,199.1 909.4,197.5 C908.9,195.9 909.3,193.2 908.1,191.9 C907.0,190.5 904.6,189.5 902.5,189.4 C900.4,189.3 897.1,190.3 895.6,191.2 C894.2,192.2 895.1,194.1 893.8,195.0 C892.4,195.9 889.5,196.0 887.5,196.9 C885.5,197.7 883.2,198.6 881.9,200.0 C880.5,201.4 879.7,202.7 879.4,205.0 C879.1,207.3 879.8,210.8 880.0,213.8 C880.2,216.7 879.8,219.8 880.6,222.5 C881.5,225.2 883.6,227.7 885.0,230.0 C886.4,232.3 887.8,234.2 888.8,236.2 C889.7,238.3 890.3,240.6 890.6,242.5 C890.9,244.4 890.7,245.6 890.6,247.5 C890.5,249.4 889.8,251.7 890.0,253.8 C890.2,255.8 891.7,257.9 891.9,260.0 C892.1,262.1 893.2,264.2 891.2,266.2 C889.3,268.2 883.5,270.0 880.0,272.0 C876.5,274.0 872.5,276.5 870.0,278.0 C867.5,279.5 866.2,280.3 865.0,281.2 C863.8,282.2 863.8,283.8 862.5,283.8 C861.2,283.8 859.6,281.7 857.5,281.2 C855.4,280.8 852.3,280.7 850.0,281.2 C847.7,281.8 845.3,283.1 843.8,284.4 C842.2,285.6 841.2,287.1 840.6,288.8 C840.0,290.4 839.9,292.3 840.0,294.0 C840.1,295.7 841.2,297.6 841.0,299.0 C840.8,300.4 839.6,302.5 838.8,302.5 C837.9,302.5 836.3,300.9 835.6,299.0 C834.9,297.1 834.9,293.5 834.4,291.2 C833.9,289.0 833.2,285.8 832.5,285.6 C831.8,285.4 830.6,288.0 830.0,290.0 C829.4,292.0 829.4,295.0 828.8,297.5 C828.1,300.0 827.1,302.5 826.2,305.0 C825.4,307.5 824.5,310.0 823.8,312.5 C823.0,315.0 824.2,316.9 821.9,320.0 C819.6,323.1 813.6,327.3 810.0,331.0 C806.4,334.7 804.4,340.2 800.0,342.0 C795.6,343.8 786.7,341.2 783.8,342.0 C780.8,342.8 784.0,344.5 782.5,347.0 C781.0,349.5 777.5,354.1 775.0,357.0 C772.5,359.9 770.0,362.2 767.5,364.5 C765.0,366.8 762.9,369.3 760.0,370.8 C757.1,372.2 753.3,373.0 750.0,373.2 C746.7,373.5 742.7,372.6 740.0,372.0 C737.3,371.4 734.6,368.2 733.8,369.5 C732.9,370.8 734.6,376.2 735.0,379.5 C735.4,382.8 737.9,387.4 736.2,389.5 C734.6,391.6 729.4,391.4 725.0,392.0 C720.6,392.6 715.0,392.6 710.0,393.2 C705.0,393.9 698.1,394.7 695.0,395.8 C691.9,396.8 692.1,399.6 691.2,399.5 C690.4,399.4 690.0,394.5 690.0,395.0 C690.0,395.5 689.8,400.4 691.2,402.5 C692.7,404.6 695.6,405.6 698.8,407.5 C701.9,409.4 706.5,411.7 710.0,413.8 C713.5,415.8 716.7,417.3 720.0,420.0 C723.3,422.7 727.1,426.9 730.0,430.0 C732.9,433.1 735.2,435.6 737.5,438.8 C739.8,441.9 742.3,445.2 743.8,448.8 C745.2,452.3 745.4,457.1 746.2,460.0 C747.1,462.9 749.4,464.2 748.8,466.2 C748.1,468.3 744.0,470.2 742.5,472.5 C741.0,474.8 740.0,478.4 740.0,480.0 C740.0,481.6 742.5,480.0 742.5,482.0 C742.5,484.0 740.8,488.7 740.0,492.0 C739.2,495.3 737.5,499.5 737.5,502.0 C737.5,504.5 742.9,506.4 740.0,507.0 C737.1,507.6 727.1,506.2 720.0,505.8 C712.9,505.3 705.8,505.1 697.5,504.5 C689.2,503.9 677.1,502.8 670.0,502.0 C662.9,501.2 659.6,500.3 655.0,499.5 C650.4,498.7 646.2,496.2 642.5,497.0 C638.8,497.8 635.4,501.8 632.5,504.5 C629.6,507.2 625.6,509.9 625.0,513.0 C624.4,516.1 627.7,519.5 628.8,523.0 C629.8,526.5 631.1,530.5 631.2,533.8 C631.4,537.0 629.6,539.0 629.4,542.5 C629.2,546.0 630.3,550.8 630.0,555.0 C629.7,559.2 628.5,563.8 627.5,567.5 C626.5,571.2 624.8,574.4 623.8,577.5 C622.7,580.6 621.6,583.8 621.2,586.2 C620.9,588.8 620.9,591.0 621.9,592.5 C622.9,594.0 626.7,593.3 627.5,595.0 C628.3,596.7 626.6,600.0 626.9,602.5 C627.2,605.0 628.9,607.9 629.4,610.0 C629.9,612.1 629.9,612.8 630.0,615.0 C630.1,617.2 627.9,621.5 630.0,623.0 C632.1,624.5 638.5,624.2 642.5,624.2 C646.5,624.2 650.4,622.4 653.8,623.0 C657.1,623.6 659.8,625.9 662.5,628.0 C665.2,630.1 667.3,633.2 670.0,635.5 C672.7,637.8 676.0,641.5 678.8,641.8 C681.5,642.0 683.1,638.4 686.2,636.8 C689.4,635.1 693.1,632.8 697.5,631.8 C701.9,630.7 707.5,630.9 712.5,630.5 C717.5,630.1 723.3,630.9 727.5,629.2 C731.7,627.6 734.2,622.8 737.5,620.5 C740.8,618.2 745.2,616.8 747.5,615.5 C749.8,614.2 749.8,614.0 751.2,612.5 C752.7,611.0 754.8,608.8 756.2,606.2 C757.7,603.8 759.6,600.4 760.0,597.5 C760.4,594.6 759.2,591.7 758.8,588.8 C758.3,585.8 757.3,582.7 757.5,580.0 C757.7,577.3 757.9,575.8 760.0,572.5 C762.1,569.2 766.2,564.0 770.0,560.0 C773.8,556.0 778.3,551.9 782.5,548.8 C786.7,545.6 792.1,543.5 795.0,541.2 C797.9,539.0 798.1,537.7 800.0,535.5 C801.9,533.3 805.4,530.3 806.2,528.0 C807.1,525.7 805.0,523.4 805.0,521.8 C805.0,520.1 805.8,519.5 806.2,518.0 C806.7,516.5 806.9,514.8 807.5,513.0 C808.1,511.2 807.9,508.8 810.0,507.0 C812.1,505.2 815.8,503.5 820.0,502.0 C824.2,500.5 830.8,498.7 835.0,498.2 C839.2,497.8 841.2,498.5 845.0,499.5 C848.8,500.5 854.2,504.1 857.5,504.5 C860.8,504.9 862.5,503.7 865.0,502.0 C867.5,500.3 870.8,496.0 872.5,494.5 C874.2,493.0 873.3,494.2 875.0,493.0 C876.7,491.8 879.8,488.8 882.5,487.5 C885.2,486.2 888.3,485.0 891.2,485.0 C894.2,485.0 897.5,486.5 900.0,487.5 C902.5,488.5 904.4,489.8 906.2,491.2 C908.1,492.7 910.0,494.0 911.2,496.2 C912.5,498.5 912.9,501.9 913.8,505.0 C914.6,508.1 915.2,512.2 916.2,515.0 C917.3,517.8 918.1,520.5 920.0,522.0 C921.9,523.5 924.2,522.8 927.5,524.2 C930.8,525.7 935.8,527.8 940.0,530.5 C944.2,533.2 948.3,537.2 952.5,540.5 C956.7,543.8 961.2,547.2 965.0,550.5 C968.8,553.8 972.1,557.4 975.0,560.5 C977.9,563.6 980.0,566.3 982.5,569.2 C985.0,572.2 987.9,574.9 990.0,578.0 C992.1,581.1 994.0,584.7 995.0,588.0 C996.0,591.3 996.5,595.1 996.2,598.0 C996.0,600.9 993.8,603.9 993.8,605.5 C993.8,607.1 995.0,608.1 996.2,607.5 C997.5,606.9 999.4,604.2 1001.2,601.8 C1003.1,599.3 1005.6,595.8 1007.5,593.0 C1009.4,590.2 1012.0,587.4 1012.5,585.0 C1013.0,582.6 1011.2,580.8 1010.6,578.8 C1010.0,576.7 1008.9,574.6 1008.8,572.5 C1008.6,570.4 1009.2,567.9 1010.0,566.2 C1010.8,564.6 1011.9,562.9 1013.8,562.5 C1015.6,562.1 1018.5,562.9 1021.2,563.8 C1024.0,564.6 1027.9,567.3 1030.0,567.5 C1032.1,567.7 1034.4,566.2 1033.8,565.0 C1033.1,563.8 1029.4,562.1 1026.2,560.0 C1023.1,557.9 1018.5,555.2 1015.0,552.5 C1011.5,549.8 1008.1,546.5 1005.0,543.8 C1001.9,541.0 999.2,538.5 996.2,536.2 C993.3,534.0 990.2,532.1 987.5,530.0 C984.8,527.9 982.3,525.8 980.0,523.8 C977.7,521.7 976.0,520.0 973.8,517.5 C971.5,515.0 968.8,511.9 966.2,508.8 C963.8,505.6 961.0,501.9 958.8,498.8 C956.5,495.6 954.6,492.9 952.5,490.0 C950.4,487.1 947.8,484.0 946.2,481.2 C944.7,478.5 943.6,476.5 943.1,473.8 C942.6,471.0 942.6,467.3 943.1,465.0 C943.6,462.7 944.5,461.2 946.2,460.0 C948.0,458.8 951.5,458.3 953.8,457.5 C956.0,456.7 958.5,454.2 960.0,455.0 C961.5,455.8 961.5,460.0 962.5,462.5 C963.5,465.0 965.0,469.2 966.2,470.0 C967.5,470.8 968.5,468.3 970.0,467.5 C971.5,466.7 973.5,464.4 975.0,465.0 C976.5,465.6 977.5,468.5 978.8,471.2 C980.0,474.0 981.0,478.1 982.5,481.2 C984.0,484.4 985.0,487.1 987.5,490.0 C990.0,492.9 994.2,496.0 997.5,498.8 C1000.8,501.5 1004.2,504.0 1007.5,506.2 C1010.8,508.5 1014.6,510.6 1017.5,512.5 C1020.4,514.4 1022.5,515.8 1025.0,517.5 C1027.5,519.2 1030.0,520.6 1032.5,522.5 C1035.0,524.4 1037.7,527.1 1040.0,528.8 C1042.3,530.4 1045.2,529.2 1046.2,532.5 C1047.3,535.8 1046.2,545.0 1046.2,548.8 C1046.2,552.5 1045.9,552.9 1046.2,555.0 C1046.6,557.1 1047.1,559.1 1048.1,561.2 C1049.1,563.4 1050.9,566.4 1052.5,568.1 C1054.1,569.8 1055.8,569.2 1057.5,571.2 C1059.2,573.3 1060.8,577.7 1062.5,580.5 C1064.2,583.3 1066.2,585.5 1067.5,588.0 C1068.8,590.5 1067.9,593.6 1070.0,595.5 C1072.1,597.4 1076.2,598.4 1080.0,599.2 C1083.8,600.1 1088.8,599.7 1092.5,600.5 C1096.2,601.3 1099.2,603.2 1102.5,604.2 C1105.8,605.3 1110.6,606.8 1112.5,606.8 C1114.4,606.8 1115.0,606.5 1113.8,604.2 C1112.5,602.0 1107.3,596.5 1105.0,593.0 C1102.7,589.5 1100.4,585.9 1100.0,583.0 C1099.6,580.1 1102.9,578.0 1102.5,575.5 C1102.1,573.0 1098.8,570.3 1097.5,568.0 C1096.2,565.7 1094.6,562.0 1095.0,561.8 C1095.4,561.5 1098.1,567.0 1100.0,566.8 C1101.9,566.5 1104.8,562.6 1106.2,560.5 C1107.7,558.4 1106.9,555.3 1108.8,554.2 C1110.6,553.2 1114.4,554.0 1117.5,554.2 C1120.6,554.5 1124.6,555.7 1127.5,555.5 C1130.4,555.3 1132.5,553.0 1135.0,553.0 C1137.5,553.0 1140.4,554.5 1142.5,555.5 C1144.6,556.5 1146.0,558.2 1147.5,559.2 C1149.0,560.3 1150.0,561.5 1151.2,561.8 C1152.5,562.0 1152.3,561.8 1155.0,560.5 C1157.7,559.2 1162.5,555.9 1167.5,554.2 C1172.5,552.6 1180.8,551.1 1185.0,550.5 C1189.2,549.9 1190.6,549.7 1192.5,550.5 C1194.4,551.3 1197.1,553.8 1196.2,555.5 C1195.4,557.2 1191.0,559.5 1187.5,560.5 C1184.0,561.5 1179.2,561.3 1175.0,561.8 C1170.8,562.2 1165.8,562.2 1162.5,563.0 C1159.2,563.8 1157.1,565.1 1155.0,566.8 C1152.9,568.4 1150.4,571.1 1150.0,573.0 C1149.6,574.9 1150.8,576.3 1152.5,578.0 C1154.2,579.7 1158.8,580.1 1160.0,583.0 C1161.2,585.9 1161.0,592.8 1160.0,595.5 C1159.0,598.2 1155.0,598.0 1153.8,599.2 C1152.5,600.5 1151.5,601.8 1152.5,603.0 C1153.5,604.2 1158.1,605.1 1160.0,606.8 C1161.9,608.4 1162.7,610.3 1163.8,613.0 C1164.8,615.7 1164.8,620.5 1166.2,623.0 C1167.7,625.5 1171.0,626.3 1172.5,628.0 C1174.0,629.7 1172.9,631.8 1175.0,633.0 C1177.1,634.2 1181.7,634.7 1185.0,635.5 C1188.3,636.3 1191.7,637.2 1195.0,638.0 C1198.3,638.8 1202.1,640.9 1205.0,640.5 C1207.9,640.1 1209.6,637.2 1212.5,635.5 C1215.4,633.8 1219.2,630.7 1222.5,630.5 C1225.8,630.3 1229.2,633.0 1232.5,634.2 C1235.8,635.5 1239.6,637.0 1242.5,638.0 C1245.4,639.0 1246.7,640.5 1250.0,640.5 C1253.3,640.5 1258.3,638.8 1262.5,638.0 C1266.7,637.2 1271.2,636.3 1275.0,635.5 C1278.8,634.7 1281.9,633.8 1285.0,633.0 C1288.1,632.2 1292.3,629.2 1293.8,630.5 C1295.2,631.8 1294.2,637.6 1293.8,640.5 C1293.3,643.4 1291.9,645.1 1291.2,648.0 C1290.6,650.9 1289.6,655.1 1290.0,658.0 C1290.4,660.9 1293.8,662.6 1293.8,665.5 C1293.8,668.4 1291.5,671.8 1290.0,675.5 C1288.5,679.2 1263.3,683.9 1285.0,688.0 C1306.7,692.1 1397.5,816.3 1420.0,700.0 C1442.5,583.7 1476.7,107.0 1420.0,-10.0 C1363.3,-127.0 1136.8,-4.5 1080.0,-2.0Z" fill="#f2e2cd"/>
<path d="M877.5,-2.0 C849.0,0.0 868.5,6.5 866.2,10.0 C864.0,13.5 865.1,15.8 863.8,18.8 C862.4,21.8 860.9,24.7 858.0,28.0 C855.1,31.3 850.0,35.3 846.6,38.4 C843.2,41.5 839.3,43.2 837.4,46.6 C835.5,50.0 836.0,55.1 835.3,58.8 C834.6,62.5 833.3,66.8 833.3,69.0 C833.3,71.2 830.2,72.4 835.3,72.1 C840.4,71.8 859.1,67.9 863.9,67.4 C868.7,66.9 868.1,67.5 863.9,69.0 C859.6,70.5 842.8,73.8 838.4,76.2 C834.0,78.6 837.4,81.2 837.4,83.4 C837.4,85.6 837.1,88.3 838.4,89.5 C839.7,90.7 842.8,90.2 845.0,90.5 C847.2,90.8 851.1,89.7 851.7,91.2 C852.3,92.7 850.3,96.6 848.6,99.7 C846.9,102.8 843.0,107.2 841.5,109.9 C840.0,112.6 838.9,113.4 839.4,116.1 C839.9,118.8 843.3,122.9 844.5,126.3 C845.7,129.7 845.6,133.1 846.6,136.5 C847.6,139.9 848.3,144.0 850.7,146.7 C853.1,149.4 856.8,151.4 860.9,152.8 C865.0,154.2 870.4,155.6 875.2,154.9 C880.0,154.2 885.1,151.5 889.5,148.8 C893.9,146.1 898.4,142.2 901.8,138.5 C905.2,134.8 908.0,130.0 909.9,126.3 C911.8,122.6 912.3,119.2 913.0,116.1 C913.7,113.0 913.1,106.9 914.0,107.9 C914.9,108.9 916.7,118.5 918.1,122.2 C919.5,126.0 920.8,127.0 922.2,130.4 C923.6,133.8 924.9,138.5 926.3,142.6 C927.7,146.7 929.4,150.2 930.4,154.9 C931.4,159.6 932.1,169.5 932.5,171.0 C932.9,172.5 932.1,163.5 932.5,163.8 C932.9,164.0 933.8,169.4 935.0,172.5 C936.2,175.6 938.3,179.4 940.0,182.5 C941.7,185.6 943.5,188.5 945.0,191.2 C946.5,194.0 948.3,196.9 948.8,198.8 C949.2,200.6 948.0,200.4 947.5,202.5 C947.0,204.6 945.5,208.5 945.6,211.2 C945.7,214.0 947.4,215.9 948.1,218.8 C948.9,221.6 946.5,226.6 950.0,228.1 C953.5,229.7 965.8,229.3 969.4,228.1 C972.9,227.0 969.9,223.6 971.2,221.2 C972.6,218.9 975.2,215.8 977.5,213.8 C979.8,211.7 982.3,210.0 985.0,208.8 C987.7,207.5 991.9,208.1 993.8,206.2 C995.6,204.4 995.4,201.0 996.2,197.5 C997.1,194.0 997.9,189.6 998.8,185.0 C999.6,180.4 1000.5,174.2 1001.2,170.0 C1002.0,165.8 1002.7,163.3 1003.1,160.0 C1003.5,156.7 1004.3,152.9 1003.8,150.0 C1003.2,147.1 999.0,145.0 1000.0,142.5 C1001.0,140.0 1006.5,137.5 1010.0,135.0 C1013.5,132.5 1019.6,129.6 1021.2,127.5 C1022.9,125.4 1023.3,124.2 1020.0,122.5 C1016.7,120.8 1001.7,118.7 1001.2,117.0 C1000.8,115.3 1013.5,112.6 1017.5,112.5 C1021.5,112.4 1022.7,117.1 1025.0,116.2 C1027.3,115.4 1030.8,110.6 1031.2,107.5 C1031.7,104.4 1029.4,101.2 1027.5,97.5 C1025.6,93.8 1022.1,87.5 1020.0,85.0 C1017.9,82.5 1016.2,84.6 1015.0,82.5 C1013.8,80.4 1012.7,76.7 1012.5,72.5 C1012.3,68.3 1012.9,65.4 1013.8,57.5 C1014.6,49.6 1015.2,32.5 1017.5,25.0 C1019.8,17.5 1024.2,17.0 1027.5,12.5 C1030.8,8.0 1062.5,0.4 1037.5,-2.0 C1012.5,-4.4 906.0,-4.0 877.5,-2.0Z" fill="#f2e2cd"/>
<path d="M645.0,688.0 C602.9,685.9 652.1,679.7 655.0,675.5 C657.9,671.3 660.4,666.8 662.5,663.0 C664.6,659.2 665.4,655.5 667.5,653.0 C669.6,650.5 672.9,648.4 675.0,648.0 C677.1,647.6 677.9,648.8 680.0,650.5 C682.1,652.2 684.2,656.5 687.5,658.0 C690.8,659.5 695.8,658.8 700.0,659.2 C704.2,659.7 707.9,660.3 712.5,660.5 C717.1,660.7 723.8,661.8 727.5,660.5 C731.2,659.2 732.1,655.5 735.0,653.0 C737.9,650.5 740.8,648.0 745.0,645.5 C749.2,643.0 754.6,640.5 760.0,638.0 C765.4,635.5 771.7,632.2 777.5,630.5 C783.3,628.8 789.2,628.6 795.0,628.0 C800.8,627.4 806.7,626.5 812.5,626.8 C818.3,627.0 825.0,628.6 830.0,629.2 C835.0,629.9 838.8,631.1 842.5,630.5 C846.2,629.9 848.8,626.5 852.5,625.5 C856.2,624.5 860.4,624.2 865.0,624.2 C869.6,624.2 875.4,625.9 880.0,625.5 C884.6,625.1 888.3,622.2 892.5,621.8 C896.7,621.3 901.2,622.0 905.0,623.0 C908.8,624.0 913.1,627.8 915.0,628.0 C916.9,628.2 916.7,623.0 916.2,624.2 C915.8,625.5 913.1,632.0 912.5,635.5 C911.9,639.0 911.7,642.6 912.5,645.5 C913.3,648.4 916.7,650.1 917.5,653.0 C918.3,655.9 918.8,659.7 917.5,663.0 C916.2,666.3 911.7,668.8 910.0,673.0 C908.3,677.2 951.7,685.5 907.5,688.0 C863.3,690.5 687.1,690.1 645.0,688.0Z" fill="#f2e2cd"/>
<path d="M652.5,232.2 C650.0,232.9 647.5,236.6 645.0,238.5 C642.5,240.4 639.6,241.4 637.5,243.5 C635.4,245.6 635.4,248.7 632.5,251.0 C629.6,253.3 623.1,255.2 620.0,257.2 C616.9,259.3 614.6,261.2 613.8,263.5 C612.9,265.8 615.2,268.1 615.0,271.0 C614.8,273.9 611.7,278.1 612.5,281.0 C613.3,283.9 618.1,286.0 620.0,288.5 C621.9,291.0 624.2,293.1 623.8,296.0 C623.3,298.9 619.6,303.5 617.5,306.0 C615.4,308.5 612.7,309.3 611.2,311.0 C609.8,312.7 608.3,313.9 608.8,316.0 C609.2,318.1 611.9,321.6 613.8,323.5 C615.6,325.4 616.5,327.7 620.0,327.2 C623.5,326.8 630.0,322.9 635.0,321.0 C640.0,319.1 645.8,317.7 650.0,316.0 C654.2,314.3 657.5,313.5 660.0,311.0 C662.5,308.5 664.0,304.8 665.0,301.0 C666.0,297.2 666.2,292.7 666.2,288.5 C666.2,284.3 665.6,279.5 665.0,276.0 C664.4,272.5 661.9,269.8 662.5,267.2 C663.1,264.8 666.9,263.3 668.8,261.0 C670.6,258.7 673.1,256.4 673.8,253.5 C674.4,250.6 673.5,246.2 672.5,243.5 C671.5,240.8 669.6,238.7 667.5,237.2 C665.4,235.8 662.5,235.6 660.0,234.8 C657.5,233.9 655.0,231.6 652.5,232.2Z" fill="#f2e2cd"/>
<path d="M890.0,520.5 C891.1,517.5 894.6,515.0 896.2,515.0 C897.9,515.0 899.5,517.9 900.0,520.5 C900.5,523.1 900.1,527.2 899.5,530.5 C898.9,533.8 897.4,538.8 896.2,540.5 C895.1,542.2 893.6,542.2 892.5,541.0 C891.4,539.8 889.9,536.4 889.5,533.0 C889.1,529.6 888.9,523.5 890.0,520.5Z" fill="#f2e2cd"/>
<path d="M1110.0,655.5 C1111.0,654.5 1114.2,653.0 1117.5,653.0 C1120.8,653.0 1125.8,654.9 1130.0,655.5 C1134.2,656.1 1139.4,656.1 1142.5,656.8 C1145.6,657.4 1148.3,658.2 1148.8,659.2 C1149.2,660.3 1147.7,662.2 1145.0,663.0 C1142.3,663.8 1136.7,664.5 1132.5,664.2 C1128.3,664.0 1123.5,662.6 1120.0,661.8 C1116.5,660.9 1112.9,660.3 1111.2,659.2 C1109.6,658.2 1109.0,656.5 1110.0,655.5Z" fill="#f2e2cd"/>
<path d="M1241.2,663.0 C1241.2,661.3 1244.8,659.2 1247.5,658.0 C1250.2,656.8 1253.8,657.5 1257.5,656.0 C1261.2,654.5 1267.3,650.4 1270.0,649.2 C1272.7,648.1 1274.2,648.2 1273.8,649.2 C1273.3,650.3 1269.2,653.2 1267.5,655.5 C1265.8,657.8 1265.8,661.3 1263.8,663.0 C1261.7,664.7 1257.7,664.7 1255.0,665.5 C1252.3,666.3 1249.8,668.4 1247.5,668.0 C1245.2,667.6 1241.2,664.7 1241.2,663.0Z" fill="#f2e2cd"/>
<path d="M1073.8,609.2 C1074.0,607.2 1076.9,606.4 1080.0,606.0 C1083.1,605.6 1088.8,606.2 1092.5,606.8 C1096.2,607.3 1100.2,608.2 1102.5,609.2 C1104.8,610.3 1106.2,611.1 1106.2,613.0 C1106.2,614.9 1103.3,617.6 1102.5,620.5 C1101.7,623.4 1102.5,628.4 1101.2,630.5 C1100.0,632.6 1096.9,633.4 1095.0,633.0 C1093.1,632.6 1092.1,629.2 1090.0,628.0 C1087.9,626.8 1084.4,627.2 1082.5,625.5 C1080.6,623.8 1080.2,620.7 1078.8,618.0 C1077.3,615.3 1073.5,611.2 1073.8,609.2Z" fill="#f2e2cd"/>
<path d="M1103.8,589.2 C1104.0,588.4 1105.6,588.2 1108.8,590.5 C1111.9,592.8 1120.6,600.6 1122.5,603.0 C1124.4,605.4 1122.5,606.2 1120.0,605.0 C1117.5,603.8 1110.2,598.1 1107.5,595.5 C1104.8,592.9 1103.5,590.1 1103.8,589.2Z" fill="#f2e2cd"/>
<path d="M925.0,218.8 C925.5,217.0 927.0,214.6 928.1,214.4 C929.3,214.2 930.7,217.4 931.9,217.5 C933.0,217.6 933.9,215.9 935.0,215.0 C936.1,214.1 937.6,212.1 938.8,211.9 C939.9,211.7 941.5,212.4 941.9,213.8 C942.3,215.1 941.6,218.1 941.2,220.0 C940.9,221.9 940.1,223.1 940.0,225.0 C939.9,226.9 940.9,229.4 940.6,231.2 C940.3,233.1 939.1,235.6 938.1,236.2 C937.2,236.9 936.1,235.6 935.0,235.0 C933.9,234.4 932.5,233.4 931.2,232.5 C930.0,231.6 928.5,230.6 927.5,229.4 C926.5,228.1 925.4,226.8 925.0,225.0 C924.6,223.2 924.5,220.5 925.0,218.8Z" fill="#f2e2cd"/>
<path d="M882.5,186.9 C883.6,185.8 886.2,184.9 888.8,183.8 C891.2,182.6 894.6,181.7 897.5,180.0 C900.4,178.3 903.6,175.8 906.2,173.8 C908.9,171.7 911.9,167.3 913.1,167.5 C914.4,167.7 914.0,172.5 913.8,175.0 C913.5,177.5 913.5,180.7 911.9,182.5 C910.2,184.3 906.6,184.9 903.8,185.6 C900.9,186.4 897.7,186.2 895.0,186.9 C892.3,187.5 889.4,188.4 887.5,189.4 C885.6,190.3 884.6,192.4 883.8,192.5 C882.9,192.6 882.5,190.9 882.2,190.0 C882.0,189.1 881.4,187.9 882.5,186.9Z" fill="#f2e2cd"/>
<path d="M1051.2,91.2 C1051.6,90.2 1053.8,91.0 1054.5,92.0 C1055.2,93.0 1055.8,96.0 1055.5,97.0 C1055.2,98.0 1053.2,99.0 1052.5,98.0 C1051.8,97.0 1050.9,92.2 1051.2,91.2Z" fill="#f2e2cd"/>
<path d="M1087.5,132.0 C1088.3,131.2 1093.5,131.8 1095.0,132.5 C1096.5,133.2 1097.6,135.5 1096.8,136.2 C1095.9,137.0 1091.5,137.7 1090.0,137.0 C1088.5,136.3 1086.7,132.8 1087.5,132.0Z" fill="#f2e2cd"/>
<path d="M1083.8,145.5 C1085.2,144.4 1089.0,143.8 1091.2,144.5 C1093.5,145.2 1097.7,148.2 1097.5,149.5 C1097.3,150.8 1092.1,151.0 1090.0,152.0 C1087.9,153.0 1086.2,155.6 1085.0,155.5 C1083.8,155.4 1082.7,152.9 1082.5,151.2 C1082.3,149.6 1082.3,146.6 1083.8,145.5Z" fill="#f2e2cd"/>
<path d="M1130.5,572.0 C1130.5,571.2 1131.5,569.5 1132.0,569.5 C1132.5,569.5 1133.5,571.2 1133.5,572.0 C1133.5,572.8 1132.5,574.5 1132.0,574.5 C1131.5,574.5 1130.5,572.8 1130.5,572.0Z" fill="#f2e2cd"/>
<path d="M1146.0,587.0 C1146.0,586.5 1147.3,585.5 1148.0,585.5 C1148.7,585.5 1150.0,586.5 1150.0,587.0 C1150.0,587.5 1148.7,588.5 1148.0,588.5 C1147.3,588.5 1146.0,587.5 1146.0,587.0Z" fill="#f2e2cd"/>
<path d="M1125.5,609.0 C1125.5,608.3 1126.5,607.0 1127.0,607.0 C1127.5,607.0 1128.5,608.3 1128.5,609.0 C1128.5,609.7 1127.5,611.0 1127.0,611.0 C1126.5,611.0 1125.5,609.7 1125.5,609.0Z" fill="#f2e2cd"/>
<path d="M1122.5,628.0 C1122.5,627.5 1123.5,626.5 1124.0,626.5 C1124.5,626.5 1125.5,627.5 1125.5,628.0 C1125.5,628.5 1124.5,629.5 1124.0,629.5 C1123.5,629.5 1122.5,628.5 1122.5,628.0Z" fill="#f2e2cd"/>
<path d="M1129.8,631.0 C1129.8,630.5 1130.6,629.5 1131.0,629.5 C1131.4,629.5 1132.2,630.5 1132.2,631.0 C1132.2,631.5 1131.4,632.5 1131.0,632.5 C1130.6,632.5 1129.8,631.5 1129.8,631.0Z" fill="#f2e2cd"/>
<path d="M1136.5,628.0 C1136.5,627.3 1137.5,626.0 1138.0,626.0 C1138.5,626.0 1139.5,627.3 1139.5,628.0 C1139.5,628.7 1138.5,630.0 1138.0,630.0 C1137.5,630.0 1136.5,628.7 1136.5,628.0Z" fill="#f2e2cd"/>
<path d="M1119.7,633.0 C1119.7,632.6 1120.6,631.7 1121.0,631.7 C1121.4,631.7 1122.3,632.6 1122.3,633.0 C1122.3,633.4 1121.4,634.3 1121.0,634.3 C1120.6,634.3 1119.7,633.4 1119.7,633.0Z" fill="#f2e2cd"/>
<path d="M1147.5,613.0 C1147.5,612.7 1148.5,612.0 1149.0,612.0 C1149.5,612.0 1150.5,612.7 1150.5,613.0 C1150.5,613.3 1149.5,614.0 1149.0,614.0 C1148.5,614.0 1147.5,613.3 1147.5,613.0Z" fill="#f2e2cd"/>
<path d="M1158.5,651.0 C1158.5,650.2 1159.5,648.5 1160.0,648.5 C1160.5,648.5 1161.5,650.2 1161.5,651.0 C1161.5,651.8 1160.5,653.5 1160.0,653.5 C1159.5,653.5 1158.5,651.8 1158.5,651.0Z" fill="#f2e2cd"/>
<path d="M1172.8,642.0 C1172.8,641.3 1173.6,640.0 1174.0,640.0 C1174.4,640.0 1175.2,641.3 1175.2,642.0 C1175.2,642.7 1174.4,644.0 1174.0,644.0 C1173.6,644.0 1172.8,642.7 1172.8,642.0Z" fill="#f2e2cd"/>
<path d="M1099.5,642.0 C1099.5,641.3 1100.5,640.0 1101.0,640.0 C1101.5,640.0 1102.5,641.3 1102.5,642.0 C1102.5,642.7 1101.5,644.0 1101.0,644.0 C1100.5,644.0 1099.5,642.7 1099.5,642.0Z" fill="#f2e2cd"/>
<path d="M1141.8,597.0 C1141.8,596.2 1142.6,594.5 1143.0,594.5 C1143.4,594.5 1144.2,596.2 1144.2,597.0 C1144.2,597.8 1143.4,599.5 1143.0,599.5 C1142.6,599.5 1141.8,597.8 1141.8,597.0Z" fill="#f2e2cd"/>
<path d="M1062.8,606.0 C1062.8,605.3 1063.6,604.0 1064.0,604.0 C1064.4,604.0 1065.2,605.3 1065.2,606.0 C1065.2,606.7 1064.4,608.0 1064.0,608.0 C1063.6,608.0 1062.8,606.7 1062.8,606.0Z" fill="#f2e2cd"/>
<path d="M1052.0,577.0 C1052.0,576.2 1052.7,574.5 1053.0,574.5 C1053.3,574.5 1054.0,576.2 1054.0,577.0 C1054.0,577.8 1053.3,579.5 1053.0,579.5 C1052.7,579.5 1052.0,577.8 1052.0,577.0Z" fill="#f2e2cd"/>
<path d="M687.5,145.0 C690.6,143.6 695.6,145.2 700.0,145.6 C704.4,146.0 712.2,146.1 713.8,147.5 C715.2,148.9 710.9,151.9 709.0,154.0 C707.1,156.1 704.2,158.0 702.5,160.0 C700.8,162.0 698.1,164.7 698.8,166.2 C699.4,167.8 702.9,168.6 706.2,169.4 C709.6,170.2 715.4,170.2 719.0,171.2 C722.6,172.3 726.2,172.9 728.0,176.0 C729.8,179.1 731.0,186.3 730.0,190.0 C729.0,193.7 724.5,195.9 722.0,198.0 C719.5,200.1 716.8,200.9 715.0,202.5 C713.2,204.1 711.5,205.8 711.2,207.5 C711.0,209.2 712.0,211.4 713.8,212.5 C715.5,213.6 719.0,212.4 722.0,214.0 C725.0,215.6 729.3,218.5 732.0,222.0 C734.7,225.5 736.4,230.8 738.0,235.0 C739.6,239.2 740.1,244.2 741.5,247.5 C742.9,250.8 744.6,252.1 746.2,255.0 C747.9,257.9 749.6,261.7 751.2,265.0 C752.9,268.3 754.8,271.7 756.2,275.0 C757.7,278.3 758.8,282.2 760.0,285.0 C761.2,287.8 761.7,290.8 763.8,291.9 C765.8,293.0 769.8,291.4 772.5,291.9 C775.2,292.4 778.2,293.4 780.0,295.0 C781.8,296.6 782.9,299.0 783.1,301.2 C783.3,303.5 782.1,306.0 781.2,308.8 C780.4,311.5 778.5,314.8 778.1,317.5 C777.7,320.2 778.4,322.7 778.8,325.0 C779.1,327.3 780.6,329.2 780.0,331.2 C779.4,333.3 777.1,336.0 775.0,337.5 C772.9,339.0 770.8,339.2 767.5,340.0 C764.2,340.8 759.6,341.2 755.0,342.0 C750.4,342.8 745.8,343.7 740.0,344.5 C734.2,345.3 725.8,345.5 720.0,347.0 C714.2,348.5 710.0,352.0 705.0,353.2 C700.0,354.5 694.0,353.9 690.0,354.5 C686.0,355.1 681.7,357.8 681.2,357.0 C680.8,356.2 686.0,352.0 687.5,350.0 C689.0,348.0 688.8,346.7 690.0,345.0 C691.2,343.3 692.9,341.5 695.0,340.0 C697.1,338.5 699.6,337.5 702.5,336.2 C705.4,335.0 710.1,333.9 712.5,332.5 C714.9,331.1 716.4,329.2 717.0,328.0 C717.6,326.8 717.8,325.3 716.2,325.0 C714.7,324.7 710.6,326.1 707.5,326.2 C704.4,326.4 700.4,326.0 697.5,325.6 C694.6,325.2 691.9,324.7 690.0,323.8 C688.1,322.8 686.8,321.5 686.2,320.0 C685.7,318.5 686.1,316.7 686.9,315.0 C687.7,313.3 689.5,311.5 691.2,310.0 C693.0,308.5 695.8,307.3 697.5,306.2 C699.2,305.2 701.9,304.8 701.2,303.8 C700.6,302.7 695.6,301.7 693.8,300.0 C691.9,298.3 690.5,295.2 690.0,293.8 C689.5,292.3 689.4,292.5 690.6,291.2 C691.9,290.0 694.3,287.3 697.5,286.2 C700.7,285.2 707.3,285.6 710.0,285.0 C712.7,284.4 712.8,284.2 713.8,282.5 C714.7,280.8 715.2,277.9 715.6,275.0 C716.0,272.1 716.8,267.7 716.2,265.0 C715.7,262.3 713.8,260.8 712.5,258.8 C711.2,256.7 709.8,254.7 708.8,252.5 C707.7,250.3 707.9,246.4 706.2,245.6 C704.6,244.8 701.2,246.9 698.8,247.5 C696.2,248.1 693.2,249.6 691.2,249.4 C689.3,249.2 688.0,248.2 686.9,246.2 C685.8,244.3 684.7,241.0 684.4,237.5 C684.1,234.0 685.3,228.1 685.0,225.0 C684.7,221.9 683.8,218.3 682.5,218.8 C681.2,219.2 679.0,225.0 677.5,227.5 C676.0,230.0 674.3,234.2 673.8,233.8 C673.2,233.3 674.0,228.5 674.4,225.0 C674.8,221.5 675.7,216.7 676.2,212.5 C676.8,208.3 677.5,202.5 677.5,200.0 C677.5,197.5 677.1,197.5 676.2,197.5 C675.4,197.5 673.4,200.4 672.5,200.0 C671.6,199.6 671.0,197.5 670.6,195.0 C670.2,192.5 669.7,187.7 670.0,185.0 C670.3,182.3 672.0,181.0 672.5,178.8 C673.0,176.5 672.5,174.0 673.1,171.2 C673.7,168.5 674.9,165.4 676.2,162.5 C677.6,159.6 679.4,156.7 681.2,153.8 C683.1,150.8 684.4,146.4 687.5,145.0Z" fill="#d3cdea"/>
<path d="M946.2,608.0 C946.5,606.5 948.5,605.5 951.2,605.5 C954.0,605.5 958.5,607.8 962.5,608.0 C966.5,608.2 970.8,607.2 975.0,606.8 C979.2,606.2 985.4,604.0 987.5,605.0 C989.6,606.0 987.7,610.0 987.5,613.0 C987.3,616.0 986.7,620.1 986.2,623.0 C985.8,625.9 986.5,629.5 985.0,630.5 C983.5,631.5 980.4,630.3 977.5,629.2 C974.6,628.2 970.8,625.9 967.5,624.2 C964.2,622.6 960.4,620.9 957.5,619.2 C954.6,617.6 951.9,616.1 950.0,614.2 C948.1,612.4 946.0,609.5 946.2,608.0Z" fill="#d3cdea"/>
<path d="M880.0,553.0 C881.0,552.0 884.8,554.9 887.5,554.2 C890.2,553.6 894.0,549.5 896.2,549.2 C898.5,549.0 900.0,550.7 901.2,553.0 C902.5,555.3 903.5,559.2 903.8,563.0 C904.0,566.8 903.5,572.0 902.5,575.5 C901.5,579.0 899.6,581.8 897.5,584.2 C895.4,586.8 892.1,589.9 890.0,590.5 C887.9,591.1 886.2,590.1 885.0,588.0 C883.8,585.9 882.7,581.3 882.5,578.0 C882.3,574.7 884.0,570.9 883.8,568.0 C883.5,565.1 881.9,563.0 881.2,560.5 C880.6,558.0 879.0,554.0 880.0,553.0Z" fill="#d3cdea"/>
<path d="M796.2,575.5 C796.7,574.1 800.2,571.4 802.5,571.0 C804.8,570.6 808.5,571.8 810.0,573.0 C811.5,574.2 811.9,576.3 811.2,578.0 C810.6,579.7 808.1,582.8 806.2,583.0 C804.4,583.2 801.7,580.5 800.0,579.2 C798.3,578.0 795.8,576.9 796.2,575.5Z" fill="#d3cdea"/>
<path d="M818.8,569.2 C819.2,568.6 822.6,568.2 823.8,568.5 C824.9,568.8 825.9,570.3 825.5,571.0 C825.1,571.7 822.4,572.8 821.2,572.5 C820.1,572.2 818.3,569.9 818.8,569.2Z" fill="#d3cdea"/>
<path d="M780.8,588.0 C781.0,587.1 782.1,586.8 782.5,587.5 C782.9,588.2 783.2,591.6 783.0,592.5 C782.8,593.4 781.6,593.8 781.2,593.0 C780.9,592.2 780.5,588.9 780.8,588.0Z" fill="#d3cdea"/>
<path d="M654.0,156.0 C655.1,154.2 658.3,152.8 660.0,152.5 C661.7,152.2 663.7,152.4 664.0,154.0 C664.3,155.6 663.3,160.0 662.0,162.0 C660.7,164.0 657.4,165.8 656.0,166.0 C654.6,166.2 653.8,164.7 653.5,163.0 C653.2,161.3 652.9,157.8 654.0,156.0Z" fill="#d3cdea"/>
<path d="M660.6,173.5 C661.0,172.5 662.9,173.1 663.5,174.0 C664.1,174.9 664.4,178.0 664.0,179.0 C663.6,180.0 661.6,180.9 661.0,180.0 C660.4,179.1 660.2,174.5 660.6,173.5Z" fill="#d3cdea"/>
<path d="M649.0,175.5 C649.3,173.8 651.0,174.4 651.5,176.0 C652.0,177.6 652.3,183.3 652.0,185.0 C651.7,186.7 650.0,187.6 649.5,186.0 C649.0,184.4 648.7,177.2 649.0,175.5Z" fill="#d3cdea"/>
<g clip-path="url(#cmain)">
<path d="M631.2,533.8 C635.3,533.6 641.8,532.0 645.0,531.9 C648.2,531.8 656.4,532.0 658.8,532.5 C661.1,533.0 664.1,535.1 665.0,536.2 C665.9,537.4 666.4,540.3 666.2,542.5 C666.1,544.7 664.5,552.1 663.8,555.0 C663.0,557.9 660.9,565.3 660.0,567.5 C659.1,569.7 656.9,572.0 656.2,573.8 C655.6,575.5 654.4,580.3 654.4,582.5 C654.4,584.7 655.8,590.2 656.2,592.5 C656.7,594.8 658.0,600.5 658.1,602.5 C658.2,604.5 657.9,608.5 657.5,610.0 C657.1,611.5 655.4,613.5 655.0,615.0 C654.6,616.5 654.3,618.3 653.8,623.0 C653.2,627.7 628.3,651.3 650.0,655.0 C671.7,658.7 817.8,669.6 840.0,655.0 C862.2,640.4 844.1,545.5 840.0,530.0 C835.9,514.5 810.2,523.0 805.0,521.8 C799.8,520.5 797.0,519.8 795.0,519.2 C793.0,518.7 789.8,517.2 787.5,516.8 C785.2,516.3 777.6,515.9 775.0,515.5 C772.4,515.1 769.1,514.0 765.0,513.0 C760.9,512.0 743.4,508.4 740.0,507.0 C736.6,505.6 737.8,501.9 736.0,501.0 C734.2,500.1 729.2,499.5 725.0,499.0 C720.8,498.5 707.6,497.8 700.0,497.0 C692.4,496.2 669.3,492.8 660.0,492.0 C650.7,491.2 625.8,485.2 620.0,490.0 C614.2,494.8 608.7,527.9 610.0,533.0 C611.3,538.1 627.2,533.9 631.2,533.8Z" fill="#d3cdea"/>
<path d="M851.9,442.5 C852.0,441.3 855.2,436.1 856.2,433.8 C857.3,431.4 859.9,424.5 861.2,422.5 C862.6,420.5 866.0,417.3 867.5,416.2 C869.0,415.2 871.7,413.6 873.8,413.1 C875.8,412.6 882.3,412.0 885.0,412.0 C887.7,412.0 894.9,412.9 896.9,413.1 C898.9,413.3 901.4,413.4 902.5,413.8 C903.6,414.1 906.1,415.5 906.2,416.2 C906.4,417.0 903.9,419.0 903.8,420.0 C903.6,421.0 904.3,424.1 905.0,425.0 C905.7,425.9 909.1,427.5 910.0,428.1 C910.9,428.7 912.8,429.2 913.1,430.0 C913.4,430.8 912.9,434.0 912.5,435.0 C912.1,436.0 910.9,438.2 910.0,438.8 C909.1,439.3 906.2,439.6 905.0,440.0 C903.8,440.4 901.2,441.8 900.0,442.5 C898.8,443.2 896.3,446.1 895.0,446.2 C893.7,446.4 890.2,444.2 888.8,443.8 C887.3,443.3 884.0,442.4 882.5,442.5 C881.0,442.6 877.7,444.3 876.2,445.0 C874.8,445.7 871.2,447.4 870.0,448.1 C868.8,448.8 867.3,450.8 866.2,450.6 C865.2,450.4 862.5,447.0 861.2,446.2 C860.0,445.5 856.7,444.2 855.6,443.8 C854.5,443.3 851.8,443.7 851.9,442.5Z" fill="#d3cdea"/>
<path d="M875.0,493.0 C871.2,490.8 868.7,483.8 867.5,481.2 C866.3,478.7 864.8,473.9 864.4,471.2 C864.0,468.6 863.7,461.2 863.8,458.8 C863.8,456.3 864.7,451.0 865.0,450.0 C865.3,449.0 865.7,450.8 866.2,450.6 C866.8,450.4 868.8,448.8 870.0,448.1 C871.2,447.4 874.8,445.7 876.2,445.0 C877.7,444.3 881.0,442.6 882.5,442.5 C884.0,442.4 887.3,443.3 888.8,443.8 C890.2,444.2 893.7,446.4 895.0,446.2 C896.3,446.1 898.8,443.2 900.0,442.5 C901.2,441.8 903.8,440.4 905.0,440.0 C906.2,439.6 909.1,439.3 910.0,438.8 C910.9,438.2 912.1,436.0 912.5,435.0 C912.9,434.0 911.6,430.9 913.1,430.0 C914.6,429.1 922.1,427.1 925.0,427.0 C927.9,426.9 935.8,428.1 938.1,428.8 C940.4,429.4 943.3,431.6 945.0,432.5 C946.7,433.4 950.9,435.4 952.5,436.2 C954.1,437.1 957.9,438.7 958.8,440.0 C959.6,441.3 959.9,445.8 960.0,447.5 C960.1,449.2 959.9,453.7 959.5,455.0 C959.1,456.3 958.1,457.7 957.0,459.0 C955.9,460.3 950.8,464.1 950.0,466.0 C949.2,467.9 949.3,472.7 950.0,475.0 C950.7,477.3 954.1,483.3 956.0,486.0 C957.9,488.7 963.2,495.2 966.0,498.0 C968.8,500.8 976.0,506.9 980.0,510.0 C984.0,513.1 994.2,520.9 1000.0,525.0 C1005.8,529.1 1024.8,540.3 1030.0,545.0 C1035.2,549.7 1043.8,558.6 1045.0,565.0 C1046.2,571.4 1045.2,592.4 1040.0,600.0 C1034.8,607.6 1009.3,627.7 1000.0,630.0 C990.7,632.3 971.7,635.2 960.0,620.0 C948.3,604.8 909.9,514.8 900.0,500.0 C890.1,485.2 878.8,495.2 875.0,493.0Z" fill="#d3cdea"/>
<path d="M1068.8,195.0 C1068.5,193.2 1060.3,187.9 1060.0,185.0 C1059.7,182.1 1063.7,172.9 1066.0,170.0 C1068.3,167.1 1076.6,161.2 1080.0,160.0 C1083.4,158.8 1093.4,158.7 1095.0,160.0 C1096.6,161.3 1093.3,169.2 1093.8,171.2 C1094.2,173.3 1097.4,176.2 1098.8,177.5 C1100.1,178.8 1103.5,181.7 1105.0,182.5 C1106.5,183.3 1109.9,184.5 1111.2,184.4 C1112.6,184.3 1115.5,182.6 1116.2,181.2 C1117.0,179.9 1117.8,174.4 1118.1,172.5 C1118.4,170.6 1118.2,166.5 1118.8,165.0 C1119.3,163.5 1121.2,160.4 1122.5,159.4 C1123.8,158.4 1128.5,156.5 1130.0,156.2 C1131.5,156.0 1133.6,156.5 1135.6,156.9 C1137.6,157.3 1144.4,158.9 1147.0,160.0 C1149.6,161.1 1156.1,165.4 1158.1,166.2 C1160.1,167.1 1162.5,167.1 1163.8,166.9 C1165.0,166.7 1167.6,164.6 1168.8,164.4 C1169.9,164.2 1172.8,164.5 1173.8,165.0 C1174.7,165.5 1176.5,167.4 1176.9,168.8 C1177.3,170.1 1177.7,174.2 1177.5,176.2 C1177.3,178.3 1175.4,184.2 1175.0,186.2 C1174.6,188.3 1173.6,192.0 1173.8,193.8 C1173.9,195.5 1175.5,199.6 1176.2,201.2 C1177.0,202.9 1180.4,206.5 1180.0,207.5 C1179.6,208.5 1174.4,209.3 1172.5,210.0 C1170.6,210.7 1165.9,212.9 1163.8,213.8 C1161.6,214.6 1155.6,216.8 1153.8,216.9 C1151.9,217.0 1149.0,215.6 1147.5,215.0 C1146.0,214.4 1142.9,212.8 1141.2,211.9 C1139.6,211.0 1135.4,208.5 1133.8,207.5 C1132.1,206.5 1129.1,204.1 1127.5,203.8 C1125.9,203.4 1122.0,204.2 1120.0,204.4 C1118.0,204.6 1112.6,205.3 1110.0,205.6 C1107.4,205.9 1100.4,206.6 1097.5,206.9 C1094.6,207.2 1087.6,207.9 1085.0,208.1 C1082.4,208.3 1077.2,208.9 1075.0,208.8 C1072.8,208.6 1067.5,208.0 1066.0,207.0 C1064.5,206.0 1061.7,201.4 1062.0,200.0 C1062.3,198.6 1069.0,196.8 1068.8,195.0Z" fill="#d3cdea"/>
<path d="M1115.0,342.0 C1115.1,345.6 1114.6,352.2 1113.8,354.5 C1112.9,356.8 1109.4,360.0 1107.5,362.0 C1105.6,364.0 1099.5,370.1 1097.5,372.0 C1095.5,373.9 1091.0,375.9 1090.0,378.2 C1089.0,380.6 1088.2,389.2 1088.8,392.0 C1089.3,394.8 1094.0,400.4 1095.0,402.0 C1096.0,403.6 1095.8,405.5 1097.5,405.8 C1099.2,406.0 1106.2,404.4 1110.0,404.5 C1113.8,404.6 1125.9,407.3 1130.0,407.0 C1134.1,406.7 1141.8,403.0 1145.0,402.0 C1148.2,401.0 1155.6,397.7 1157.5,398.2 C1159.4,398.8 1160.4,405.1 1161.2,407.0 C1162.1,408.9 1163.7,412.2 1165.0,414.5 C1166.3,416.8 1171.0,424.1 1172.5,427.0 C1174.0,429.9 1176.6,437.2 1177.5,439.5 C1178.4,441.8 1179.4,445.0 1180.0,447.0 C1180.6,449.0 1181.3,455.4 1182.5,457.0 C1183.7,458.6 1188.2,460.2 1190.0,460.8 C1191.8,461.3 1196.3,457.4 1197.5,462.0 C1198.7,466.6 1189.8,496.1 1200.0,500.0 C1210.2,503.9 1273.3,498.5 1285.0,495.0 C1296.7,491.5 1297.9,475.0 1300.0,470.0 C1302.1,465.0 1301.5,455.7 1303.0,452.0 C1304.5,448.3 1310.2,440.9 1313.0,438.0 C1315.8,435.1 1324.7,429.2 1327.0,427.0 C1329.3,424.8 1331.0,421.5 1332.5,419.5 C1334.0,417.5 1338.0,411.5 1340.0,409.5 C1342.0,407.5 1348.5,404.0 1350.0,402.0 C1351.5,400.0 1351.8,394.6 1352.5,392.0 C1353.2,389.4 1356.1,382.1 1356.2,379.5 C1356.4,376.9 1355.1,371.2 1353.8,369.5 C1352.4,367.8 1347.5,365.5 1345.0,364.5 C1342.5,363.5 1335.1,361.6 1332.5,360.8 C1329.9,359.9 1324.8,358.0 1322.5,357.0 C1320.2,356.0 1315.1,352.7 1312.5,352.0 C1309.9,351.3 1302.6,350.8 1300.0,350.8 C1297.4,350.8 1292.0,352.4 1290.0,352.0 C1288.0,351.6 1283.8,348.2 1282.5,347.0 C1281.2,345.8 1279.9,343.9 1278.8,342.0 C1277.6,340.1 1273.8,333.7 1272.5,331.0 C1271.2,328.3 1268.4,320.8 1267.5,318.5 C1266.6,316.2 1265.9,312.3 1265.0,311.0 C1264.1,309.7 1263.1,307.7 1260.0,307.2 C1256.9,306.8 1242.2,307.1 1238.8,307.2 C1235.2,307.4 1232.5,307.8 1230.0,308.5 C1227.5,309.2 1219.4,312.2 1217.5,313.5 C1215.6,314.8 1214.6,318.1 1213.8,319.8 C1212.9,321.4 1212.2,326.7 1210.0,327.2 C1207.8,327.8 1198.5,325.5 1195.0,324.8 C1191.5,324.0 1183.5,321.7 1180.0,321.0 C1176.5,320.3 1168.5,319.3 1165.0,319.0 C1161.5,318.7 1153.5,318.7 1150.0,318.5 C1146.5,318.3 1138.2,317.2 1135.0,317.2 C1131.8,317.2 1125.1,317.8 1122.5,318.5 C1119.9,319.2 1113.4,320.8 1112.5,323.5 C1111.6,326.2 1114.9,338.4 1115.0,342.0Z" fill="#d3cdea"/>
<path d="M1047.0,520.0 C1049.6,516.5 1066.3,521.1 1069.0,525.0 C1071.7,528.9 1070.2,549.7 1070.0,553.8 C1069.8,557.8 1068.4,558.4 1067.5,560.0 C1066.6,561.6 1063.7,566.0 1062.5,567.5 C1061.3,569.0 1058.7,572.8 1057.5,573.0 C1056.3,573.2 1053.0,570.3 1052.0,569.0 C1051.0,567.7 1049.1,563.6 1048.5,562.0 C1047.9,560.4 1047.2,559.9 1047.0,555.0 C1046.8,550.1 1044.4,523.5 1047.0,520.0Z" fill="#d3cdea"/>
<path d="M972.5,264.4 C972.7,265.7 971.7,270.4 971.9,272.5 C972.0,274.6 973.8,280.5 973.8,282.5 C973.7,284.5 971.2,288.2 971.2,290.0 C971.2,291.8 973.0,295.8 973.8,297.5 C974.5,299.2 976.8,303.2 977.5,305.0 C978.2,306.8 979.6,311.6 980.0,312.5 C980.4,313.4 980.3,311.0 980.6,312.5 C980.9,314.0 982.1,322.2 982.5,325.0 C982.9,327.8 982.9,334.6 983.8,336.2 C984.6,337.9 988.1,338.0 990.0,338.8 C991.9,339.5 997.7,341.5 1000.0,342.5 C1002.3,343.5 1007.4,345.3 1010.0,347.0 C1012.6,348.7 1019.6,354.7 1022.5,357.0 C1025.4,359.3 1031.8,365.8 1035.0,367.0 C1038.2,368.2 1045.9,366.4 1050.0,367.0 C1054.1,367.6 1065.9,370.8 1070.0,372.0 C1074.1,373.2 1082.7,376.3 1085.0,377.0 C1087.3,377.7 1088.5,378.8 1090.0,378.2 C1091.5,377.7 1095.5,373.9 1097.5,372.0 C1099.5,370.1 1105.6,364.0 1107.5,362.0 C1109.4,360.0 1112.9,356.8 1113.8,354.5 C1114.6,352.2 1114.8,344.4 1115.0,342.0 C1115.2,339.6 1115.7,335.7 1115.5,333.5 C1115.3,331.3 1113.5,326.1 1113.0,323.5 C1112.5,320.9 1112.0,313.3 1111.2,311.0 C1110.5,308.7 1106.9,305.5 1106.8,303.5 C1106.6,301.5 1109.5,296.1 1110.0,293.5 C1110.5,290.9 1111.4,283.6 1111.2,281.0 C1111.1,278.4 1109.9,273.5 1108.8,271.0 C1107.6,268.5 1102.7,261.5 1101.2,259.8 C1099.8,258.0 1098.7,256.6 1096.2,256.0 C1093.8,255.4 1084.5,255.0 1080.0,254.8 C1075.5,254.5 1060.5,254.5 1057.5,253.5 C1054.5,252.5 1055.0,248.0 1054.5,246.0 C1054.0,244.0 1055.9,237.7 1053.0,236.5 C1050.1,235.3 1039.7,232.6 1030.0,235.5 C1020.3,238.4 976.7,257.6 970.0,261.0 C963.3,264.4 972.3,263.0 972.5,264.4Z" fill="#f2b9a6"/>
</g>
<path d="M1197.5,462.0 C1199.0,459.1 1202.1,457.0 1205.0,454.5 C1207.9,452.0 1211.7,449.3 1215.0,447.0 C1218.3,444.7 1222.5,442.2 1225.0,440.8 C1227.5,439.3 1228.3,438.0 1230.0,438.2 C1231.7,438.5 1232.9,440.5 1235.0,442.0 C1237.1,443.5 1239.2,446.2 1242.5,447.0 C1245.8,447.8 1252.1,446.6 1255.0,447.0 C1257.9,447.4 1259.6,448.0 1260.0,449.5 C1260.4,451.0 1259.2,453.7 1257.5,455.8 C1255.8,457.8 1251.7,460.5 1250.0,462.0 C1248.3,463.5 1247.1,463.2 1247.5,464.5 C1247.9,465.8 1250.6,467.4 1252.5,469.5 C1254.4,471.6 1256.9,474.9 1258.8,477.0 C1260.6,479.1 1261.5,481.8 1263.8,482.0 C1266.0,482.2 1269.4,480.3 1272.5,478.2 C1275.6,476.2 1279.2,472.2 1282.5,469.5 C1285.8,466.8 1290.6,463.9 1292.5,462.0 C1294.4,460.1 1295.0,458.7 1293.8,458.2 C1292.5,457.8 1287.9,459.7 1285.0,459.5 C1282.1,459.3 1278.8,458.5 1276.2,457.0 C1273.8,455.5 1271.9,452.8 1270.0,450.8 C1268.1,448.7 1265.4,446.0 1265.0,444.5 C1264.6,443.0 1265.0,443.2 1267.5,442.0 C1270.0,440.8 1275.4,438.7 1280.0,437.0 C1284.6,435.3 1290.0,433.7 1295.0,432.0 C1300.0,430.3 1305.4,428.7 1310.0,427.0 C1314.6,425.3 1318.8,423.2 1322.5,422.0 C1326.2,420.8 1329.6,419.3 1332.5,419.5 C1335.4,419.7 1340.8,421.6 1340.0,423.2 C1339.2,424.9 1331.2,427.0 1327.5,429.5 C1323.8,432.0 1320.2,434.9 1317.5,438.2 C1314.8,441.6 1313.1,445.5 1311.2,449.5 C1309.4,453.5 1306.5,458.7 1306.2,462.0 C1306.0,465.3 1307.3,466.6 1310.0,469.5 C1312.7,472.4 1318.3,476.2 1322.5,479.5 C1326.7,482.8 1330.4,486.0 1335.0,489.5 C1339.6,493.0 1344.6,496.8 1350.0,500.8 C1355.4,504.7 1363.8,509.3 1367.5,513.0 C1371.2,516.7 1371.2,519.7 1372.5,523.0 C1373.8,526.3 1376.2,530.1 1375.0,533.0 C1373.8,535.9 1368.8,538.0 1365.0,540.5 C1361.2,543.0 1356.7,546.5 1352.5,548.0 C1348.3,549.5 1344.6,548.8 1340.0,549.2 C1335.4,549.7 1330.0,551.5 1325.0,550.5 C1320.0,549.5 1315.0,545.5 1310.0,543.0 C1305.0,540.5 1299.6,537.6 1295.0,535.5 C1290.4,533.4 1287.1,531.5 1282.5,530.5 C1277.9,529.5 1272.9,529.2 1267.5,529.2 C1262.1,529.2 1255.4,529.2 1250.0,530.5 C1244.6,531.8 1239.6,534.5 1235.0,536.8 C1230.4,539.0 1227.5,542.6 1222.5,544.2 C1217.5,545.9 1210.8,546.5 1205.0,546.8 C1199.2,547.0 1191.2,547.0 1187.5,545.5 C1183.8,544.0 1184.6,540.3 1182.5,538.0 C1180.4,535.7 1176.9,534.2 1175.0,531.8 C1173.1,529.2 1171.7,526.1 1171.2,523.0 C1170.8,519.9 1170.2,516.5 1172.5,513.0 C1174.8,509.5 1182.3,505.5 1185.0,502.0 C1187.7,498.5 1187.5,495.3 1188.8,492.0 C1190.0,488.7 1191.2,485.3 1192.5,482.0 C1193.8,478.7 1195.4,475.3 1196.2,472.0 C1197.1,468.7 1196.0,464.9 1197.5,462.0Z" fill="#ffffff"/>
</g>
<g fill="none" stroke="#fffdf8" stroke-width="0.9" stroke-linejoin="round" stroke-linecap="round">
<path d="M935.0,0.0 C934.9,3.3 934.2,13.9 934.5,20.0 C934.8,26.1 935.5,31.3 936.5,36.4 C937.5,41.5 939.1,47.1 940.6,50.7 C942.1,54.3 944.9,55.1 945.7,57.8 C946.6,60.5 946.2,64.5 945.7,67.0 C945.2,69.5 943.3,69.0 942.6,73.1 C941.9,77.2 942.1,86.0 941.6,91.5 C941.1,97.0 940.8,102.0 939.6,105.8 C938.4,109.5 935.9,110.6 934.5,114.0 C933.1,117.4 932.8,123.4 931.4,126.3 C930.0,129.2 927.8,130.7 926.3,131.4 C924.8,132.1 922.9,130.6 922.2,130.4"/>
<path d="M1217.5,0.0 C1218.3,1.2 1223.8,2.5 1222.5,7.5 C1221.2,12.5 1215.4,22.1 1210.0,30.0 C1204.6,37.9 1195.8,47.5 1190.0,55.0 C1184.2,62.5 1178.8,70.0 1175.0,75.0 C1171.2,80.0 1168.8,83.3 1167.5,85.0"/>
<path d="M1170.0,122.5 C1168.8,125.4 1162.9,134.6 1162.5,140.0 C1162.1,145.4 1166.2,151.2 1167.5,155.0 C1168.8,158.8 1169.6,161.2 1170.0,162.5"/>
<path d="M653.8,236.5 C652.7,237.9 648.8,241.9 647.5,244.8 C646.2,247.6 645.8,251.2 646.2,253.5 C646.7,255.8 648.1,257.0 650.0,258.5 C651.9,260.0 655.4,260.8 657.5,262.2 C659.6,263.7 661.7,266.4 662.5,267.2"/>
<path d="M631.2,533.8 C633.5,533.4 640.4,532.1 645.0,531.9 C649.6,531.7 655.4,531.8 658.8,532.5 C662.1,533.2 663.8,534.6 665.0,536.2 C666.2,537.9 666.5,539.4 666.2,542.5 C666.0,545.6 664.8,550.8 663.8,555.0 C662.7,559.2 661.2,564.4 660.0,567.5 C658.8,570.6 657.2,571.2 656.2,573.8 C655.3,576.2 654.4,579.4 654.4,582.5 C654.4,585.6 655.6,589.2 656.2,592.5 C656.9,595.8 657.9,599.6 658.1,602.5 C658.3,605.4 658.0,607.9 657.5,610.0 C657.0,612.1 655.6,612.8 655.0,615.0 C654.4,617.2 654.0,621.7 653.8,623.0"/>
<path d="M727.5,660.5 C727.9,662.6 729.2,669.1 730.0,673.0 C730.8,676.9 732.1,682.2 732.5,684.0"/>
<path d="M877.5,625.5 C877.3,628.4 876.2,637.2 876.2,643.0 C876.2,648.8 878.1,655.5 877.5,660.5 C876.9,665.5 874.0,669.1 872.5,673.0 C871.0,676.9 869.4,682.2 868.8,684.0"/>
<path d="M1065.0,233.5 C1065.8,233.5 1067.1,233.1 1070.0,233.5 C1072.9,233.9 1078.5,235.0 1082.5,236.0 C1086.5,237.0 1091.2,238.1 1093.8,239.8 C1096.2,241.4 1097.1,243.5 1097.5,246.0 C1097.9,248.5 1095.4,252.7 1096.2,254.8 C1097.1,256.8 1100.4,256.0 1102.5,258.5 C1104.6,261.0 1106.2,268.7 1108.8,269.8 C1111.2,270.8 1114.8,266.4 1117.5,264.8 C1120.2,263.1 1121.9,261.0 1125.0,259.8 C1128.1,258.5 1134.2,259.5 1136.2,257.2 C1138.3,255.0 1136.2,250.0 1137.5,246.0 C1138.8,242.0 1141.7,237.7 1143.8,233.5 C1145.8,229.3 1148.3,223.7 1150.0,221.0 C1151.7,218.3 1153.1,217.9 1153.8,217.2"/>
<path d="M1057.5,253.5 C1061.2,253.7 1073.5,254.3 1080.0,254.8 C1086.5,255.2 1093.5,255.8 1096.2,256.0"/>
<path d="M1153.8,217.2 C1155.2,216.6 1159.4,215.0 1162.5,213.5 C1165.6,212.0 1168.8,209.5 1172.5,208.5 C1176.2,207.5 1180.4,207.0 1185.0,207.2 C1189.6,207.5 1194.6,208.9 1200.0,209.8 C1205.4,210.6 1213.8,210.8 1217.5,212.2 C1221.2,213.7 1221.2,215.4 1222.5,218.5 C1223.8,221.6 1223.3,226.4 1225.0,231.0 C1226.7,235.6 1230.0,241.8 1232.5,246.0 C1235.0,250.2 1237.5,253.1 1240.0,256.0 C1242.5,258.9 1247.5,260.2 1247.5,263.5 C1247.5,266.8 1241.9,272.7 1240.0,276.0 C1238.1,279.3 1237.9,281.4 1236.2,283.5 C1234.6,285.6 1231.2,286.4 1230.0,288.5 C1228.8,290.6 1228.3,293.5 1228.8,296.0 C1229.2,298.5 1233.1,301.6 1232.5,303.5 C1231.9,305.4 1227.9,305.6 1225.0,307.2 C1222.1,308.9 1216.7,312.5 1215.0,313.5"/>
<path d="M1178.8,203.5 L1185.0,207.2"/>
<path d="M1296.2,628.0 C1298.1,627.6 1302.7,626.1 1307.5,625.5 C1312.3,624.9 1317.9,624.2 1325.0,624.2 C1332.1,624.2 1342.5,626.1 1350.0,625.5 C1357.5,624.9 1364.6,621.8 1370.0,620.5 C1375.4,619.2 1377.5,618.8 1382.5,618.0 C1387.5,617.2 1397.1,615.9 1400.0,615.5"/>
<path d="M1382.5,618.0 C1381.2,620.5 1376.7,627.2 1375.0,633.0 C1373.3,638.8 1374.6,647.2 1372.5,653.0 C1370.4,658.8 1367.1,663.8 1362.5,668.0 C1357.9,672.2 1349.2,675.3 1345.0,678.0 C1340.8,680.7 1338.8,683.0 1337.5,684.0"/>
<path d="M1293.8,665.5 C1294.8,665.9 1299.4,666.3 1300.0,668.0 C1300.6,669.7 1298.5,672.8 1297.5,675.5 C1296.5,678.2 1294.4,682.6 1293.8,684.0"/>
<path d="M1357.5,500.8 C1360.4,501.4 1367.9,503.5 1375.0,504.5 C1382.1,505.5 1395.8,506.6 1400.0,507.0"/>
<path d="M1375.0,533.0 C1376.7,532.8 1380.8,530.9 1385.0,531.8 C1389.2,532.6 1397.5,537.0 1400.0,538.0"/>
<path d="M851.9,442.5 C852.6,441.0 854.7,437.1 856.2,433.8 C857.8,430.4 859.4,425.4 861.2,422.5 C863.1,419.6 865.4,417.8 867.5,416.2 C869.6,414.7 870.8,413.8 873.8,413.1 C876.7,412.4 881.1,412.0 885.0,412.0 C888.9,412.0 894.0,412.8 896.9,413.1 C899.8,413.4 900.9,413.2 902.5,413.8 C904.1,414.3 906.0,415.2 906.2,416.2 C906.5,417.3 904.0,418.5 903.8,420.0 C903.5,421.5 904.0,423.6 905.0,425.0 C906.0,426.4 908.6,427.3 910.0,428.1 C911.4,428.9 912.7,428.9 913.1,430.0 C913.5,431.1 913.0,433.5 912.5,435.0 C912.0,436.5 911.2,437.9 910.0,438.8 C908.8,439.6 906.7,439.4 905.0,440.0 C903.3,440.6 901.7,441.5 900.0,442.5 C898.3,443.5 896.9,446.0 895.0,446.2 C893.1,446.5 890.8,444.4 888.8,443.8 C886.7,443.1 884.6,442.3 882.5,442.5 C880.4,442.7 878.3,444.1 876.2,445.0 C874.2,445.9 871.7,447.2 870.0,448.1 C868.3,449.0 867.7,450.9 866.2,450.6 C864.8,450.3 863.0,447.4 861.2,446.2 C859.5,445.1 857.2,444.4 855.6,443.8 C854.0,443.1 852.5,442.7 851.9,442.5"/>
<path d="M865.0,450.0 C864.8,451.5 863.9,455.2 863.8,458.8 C863.6,462.3 863.8,467.5 864.4,471.2 C865.0,475.0 865.7,477.6 867.5,481.2 C869.3,484.9 873.8,491.0 875.0,493.0"/>
<path d="M913.1,430.0 C915.1,429.5 920.8,427.2 925.0,427.0 C929.2,426.8 934.8,427.8 938.1,428.8 C941.4,429.7 942.6,431.2 945.0,432.5 C947.4,433.8 950.2,435.0 952.5,436.2 C954.8,437.5 957.5,438.1 958.8,440.0 C960.0,441.9 959.9,445.0 960.0,447.5 C960.1,450.0 959.6,453.8 959.5,455.0"/>
<path d="M865.4,284.0 C865.6,285.4 867.1,288.5 866.4,292.3 C865.7,296.1 863.5,303.2 861.3,306.6 C859.1,310.0 855.1,310.3 853.1,312.7 C851.1,315.1 849.3,317.5 849.0,320.9 C848.7,324.3 851.1,329.7 851.1,333.1 C851.1,336.5 849.0,338.2 849.0,341.3 C849.0,344.4 851.1,348.1 851.1,351.5 C851.1,354.9 849.7,358.6 849.0,361.7 C848.3,364.8 847.3,368.5 847.0,369.9"/>
<path d="M812.3,325.0 C814.7,325.7 822.2,327.6 826.6,329.0 C831.0,330.4 835.1,331.1 838.8,333.1 C842.5,335.2 847.3,339.9 849.0,341.3"/>
<path d="M800.0,339.2 C802.0,340.6 807.9,344.3 812.3,347.4 C816.7,350.5 822.2,354.5 826.6,357.6 C831.0,360.7 835.4,363.8 838.8,365.8 C842.2,367.9 843.9,368.9 847.0,369.9 C850.1,370.9 853.8,370.5 857.2,371.9 C860.6,373.2 864.7,376.3 867.4,378.0 C870.1,379.7 872.5,379.4 873.5,382.1 C874.5,384.8 873.8,390.3 873.5,394.4 C873.2,398.5 872.5,403.1 871.5,406.7 C870.5,410.3 868.2,414.7 867.5,416.2"/>
<path d="M849.0,361.7 C850.0,362.4 853.6,364.3 855.0,366.0 C856.4,367.7 856.8,370.9 857.2,371.9"/>
<path d="M983.8,336.2 C982.7,336.7 981.1,338.0 977.7,339.2 C974.3,340.4 967.8,341.6 963.4,343.3 C959.0,345.0 954.6,347.4 951.2,349.5 C947.8,351.6 943.7,352.9 943.0,355.6 C942.3,358.3 944.7,362.4 947.1,365.8 C949.5,369.2 954.9,372.6 957.3,376.0 C959.7,379.4 958.7,384.8 961.4,386.2 C964.1,387.6 969.9,385.2 973.6,384.2 C977.4,383.2 980.1,380.5 983.9,380.1 C987.6,379.8 991.8,382.5 996.1,382.1 C1000.5,381.8 1005.6,380.5 1010.0,378.0 C1014.4,375.5 1018.3,368.8 1022.5,367.0 C1026.7,365.2 1032.9,367.0 1035.0,367.0"/>
<path d="M961.4,386.2 C960.4,387.6 957.0,391.0 955.3,394.4 C953.6,397.8 953.2,403.3 951.2,406.7 C949.2,410.1 946.5,413.1 943.0,414.8 C939.5,416.5 935.0,416.0 930.0,417.0 C925.0,418.0 917.0,421.1 913.0,421.0 C909.0,420.9 907.4,417.0 906.2,416.2"/>
<path d="M1010.0,385.8 C1010.2,388.5 1011.7,396.8 1011.2,402.0 C1010.8,407.2 1009.0,412.4 1007.5,417.0 C1006.0,421.6 1005.4,425.8 1002.5,429.5 C999.6,433.2 995.4,438.2 990.0,439.5 C984.6,440.8 975.0,435.8 970.0,437.0 C965.0,438.2 961.7,445.3 960.0,447.0"/>
<path d="M1011.2,404.5 C1014.0,405.3 1021.9,409.1 1027.5,409.5 C1033.1,409.9 1039.6,408.7 1045.0,407.0 C1050.4,405.3 1055.0,402.0 1060.0,399.5 C1065.0,397.0 1070.2,393.2 1075.0,392.0 C1079.8,390.8 1086.5,392.0 1088.8,392.0"/>
<path d="M1097.5,405.8 C1095.4,408.9 1088.8,418.9 1085.0,424.5 C1081.2,430.1 1077.9,435.8 1075.0,439.5 C1072.1,443.2 1070.4,444.9 1067.5,447.0 C1064.6,449.1 1059.2,451.2 1057.5,452.0"/>
<path d="M1002.5,429.5 C1005.0,431.6 1012.1,438.7 1017.5,442.0 C1022.9,445.3 1029.6,447.8 1035.0,449.5 C1040.4,451.2 1046.2,451.6 1050.0,452.0 C1053.8,452.4 1056.2,452.0 1057.5,452.0"/>
<path d="M960.0,447.0 C962.1,448.2 968.3,453.7 972.5,454.5 C976.7,455.3 981.2,454.1 985.0,452.0 C988.8,449.9 992.1,445.8 995.0,442.0 C997.9,438.2 1001.2,431.6 1002.5,429.5"/>
<path d="M985.0,452.0 C986.7,453.2 991.2,457.0 995.0,459.5 C998.8,462.0 1003.3,463.2 1007.5,467.0 C1011.7,470.8 1016.2,477.4 1020.0,482.0 C1023.8,486.6 1027.5,490.8 1030.0,494.5 C1032.5,498.2 1034.2,502.8 1035.0,504.5"/>
<path d="M1050.0,452.0 C1049.6,454.5 1047.1,462.0 1047.5,467.0 C1047.9,472.0 1052.9,477.0 1052.5,482.0 C1052.1,487.0 1046.7,491.8 1045.0,497.0 C1043.3,502.2 1042.9,510.3 1042.5,513.0"/>
<path d="M1020.0,482.0 C1022.5,481.2 1030.4,479.5 1035.0,477.0 C1039.6,474.5 1045.4,468.7 1047.5,467.0"/>
<path d="M1057.5,452.0 C1058.8,451.2 1062.1,445.3 1065.0,447.0 C1067.9,448.7 1071.2,457.8 1075.0,462.0 C1078.8,466.2 1083.8,468.7 1087.5,472.0 C1091.2,475.3 1095.4,478.7 1097.5,482.0 C1099.6,485.3 1097.1,489.9 1100.0,492.0 C1102.9,494.1 1109.2,494.5 1115.0,494.5 C1120.8,494.5 1128.3,492.8 1135.0,492.0 C1141.7,491.2 1149.2,490.3 1155.0,489.5 C1160.8,488.7 1165.0,486.6 1170.0,487.0 C1175.0,487.4 1182.5,491.2 1185.0,492.0"/>
<path d="M1097.5,482.0 C1097.1,484.5 1095.0,491.8 1095.0,497.0 C1095.0,502.2 1097.1,510.3 1097.5,513.0"/>
<path d="M1068.8,531.8 C1071.0,530.7 1078.3,527.0 1082.5,525.5 C1086.7,524.0 1090.4,520.5 1093.8,523.0 C1097.1,525.5 1099.0,537.8 1102.5,540.5 C1106.0,543.2 1110.0,539.7 1115.0,539.2 C1120.0,538.8 1126.7,538.6 1132.5,538.0 C1138.3,537.4 1143.8,536.8 1150.0,535.5 C1156.2,534.2 1166.7,531.3 1170.0,530.5"/>
<path d="M1093.8,523.0 L1097.5,513.0"/>
<path d="M1150.0,535.5 C1149.4,538.0 1146.2,546.3 1146.2,550.5 C1146.2,554.7 1149.4,558.8 1150.0,560.5"/>
<path d="M1068.8,531.8 C1068.8,534.0 1065.6,543.6 1068.8,545.5 C1071.9,547.4 1081.9,543.8 1087.5,543.0 C1093.1,542.2 1100.0,540.9 1102.5,540.5"/>
<path d="M1025.0,518.0 C1026.7,518.8 1032.1,520.1 1035.0,523.0 C1037.9,525.9 1040.6,532.6 1042.5,535.5 C1044.4,538.4 1045.6,539.7 1046.2,540.5"/>
<path d="M1163.8,393.8 C1163.0,394.8 1159.6,398.0 1159.0,400.0 C1158.4,402.0 1159.0,404.2 1160.0,406.0 C1161.0,407.8 1164.2,410.2 1165.0,411.0"/>
<path d="M1188.0,399.0 C1188.8,399.8 1191.5,401.5 1193.0,404.0 C1194.5,406.5 1195.7,410.3 1197.0,414.0 C1198.3,417.7 1199.8,422.3 1201.0,426.0 C1202.2,429.7 1204.5,433.2 1204.0,436.0 C1203.5,438.8 1201.2,440.7 1198.0,443.0 C1194.8,445.3 1188.1,448.0 1185.0,450.0 C1181.9,452.0 1180.3,454.2 1179.4,455.0"/>
<path d="M1096.2,405.0 C1098.3,404.8 1104.6,403.6 1108.8,403.8 C1112.9,403.9 1117.5,405.1 1121.2,405.6 C1125.0,406.1 1127.1,407.6 1131.2,406.9 C1135.4,406.2 1141.7,403.2 1146.2,401.2 C1150.8,399.3 1155.6,396.5 1158.8,395.0 C1161.9,393.5 1164.0,392.9 1165.0,392.5"/>
<path d="M1175.0,425.0 C1175.3,426.2 1176.6,429.6 1177.0,432.5 C1177.4,435.4 1177.2,439.4 1177.5,442.5 C1177.8,445.6 1178.4,449.2 1178.8,451.2 C1179.1,453.3 1178.9,453.5 1179.4,455.0 C1179.9,456.5 1181.6,459.2 1182.0,460.0"/>
</g>
</g>
<rect x="567.25" y="5" width="832.75" height="1" fill="#4a4a4a"/>
<path d="M1281.5,5.5 L1390.3,5.5 Q1394.8,5.5 1394.8,10 L1394.8,205.9 Q1394.8,210.4 1390.3,210.4 L1286,210.4 Q1281.5,210.4 1281.5,205.9 Z" fill="#ffffff" stroke="#4b3f3c" stroke-width="1"/>
<path d="M1299.9,166.6 C1300.1,165.5 1303.7,163.8 1304.8,162.3 C1305.9,160.9 1305.9,159.2 1306.7,157.9 C1307.5,156.6 1308.7,154.4 1309.8,154.2 C1310.9,154.0 1312.3,155.6 1313.5,156.7 C1314.7,157.8 1316.0,159.6 1317.2,161.0 C1318.5,162.4 1319.8,164.6 1321.0,165.4 C1322.2,166.2 1323.3,166.8 1324.1,166.0 C1324.9,165.2 1325.3,160.8 1325.9,160.4 C1326.5,160.0 1327.0,163.4 1327.8,163.5 C1328.6,163.6 1329.9,161.6 1330.9,161.0 C1331.9,160.4 1331.7,160.6 1334.0,159.8 C1336.3,159.0 1341.2,156.5 1345.0,156.0 C1348.8,155.5 1354.4,156.1 1357.0,156.7 C1359.6,157.3 1359.7,158.2 1360.7,159.8 C1361.7,161.4 1362.1,164.3 1363.1,166.0 C1364.1,167.7 1366.1,168.5 1366.9,169.7 C1367.7,170.9 1368.3,171.8 1368.1,173.4 C1367.9,175.1 1366.8,177.7 1365.6,179.6 C1364.4,181.5 1362.5,182.9 1360.7,184.6 C1358.9,186.3 1356.6,188.1 1354.5,189.6 C1352.4,191.1 1350.4,192.2 1348.3,193.3 C1346.2,194.4 1344.3,195.6 1342.0,196.4 C1339.7,197.2 1336.9,198.1 1334.6,198.3 C1332.3,198.5 1330.3,198.2 1328.4,197.6 C1326.5,197.0 1325.3,195.2 1323.4,194.5 C1321.5,193.8 1319.1,193.7 1317.2,193.3 C1315.3,192.9 1313.8,193.4 1312.3,192.0 C1310.8,190.6 1309.8,186.7 1308.5,184.6 C1307.2,182.5 1305.7,180.8 1304.8,179.6 C1303.9,178.4 1302.4,177.9 1303.0,177.2 C1303.6,176.5 1306.8,176.0 1308.5,175.3 C1310.2,174.6 1312.9,173.6 1312.9,172.8 C1312.9,172.0 1310.0,170.9 1308.5,170.3 C1307.0,169.7 1305.0,169.7 1303.6,169.1 C1302.2,168.5 1299.7,167.7 1299.9,166.6Z" fill="#5a5670" opacity="0.55" filter="url(#blur3)" transform="translate(-1.5,0)"/>
<path d="M1299.9,166.6 C1300.1,165.5 1303.7,163.8 1304.8,162.3 C1305.9,160.9 1305.9,159.2 1306.7,157.9 C1307.5,156.6 1308.7,154.4 1309.8,154.2 C1310.9,154.0 1312.3,155.6 1313.5,156.7 C1314.7,157.8 1316.0,159.6 1317.2,161.0 C1318.5,162.4 1319.8,164.6 1321.0,165.4 C1322.2,166.2 1323.3,166.8 1324.1,166.0 C1324.9,165.2 1325.3,160.8 1325.9,160.4 C1326.5,160.0 1327.0,163.4 1327.8,163.5 C1328.6,163.6 1329.9,161.6 1330.9,161.0 C1331.9,160.4 1331.7,160.6 1334.0,159.8 C1336.3,159.0 1341.2,156.5 1345.0,156.0 C1348.8,155.5 1354.4,156.1 1357.0,156.7 C1359.6,157.3 1359.7,158.2 1360.7,159.8 C1361.7,161.4 1362.1,164.3 1363.1,166.0 C1364.1,167.7 1366.1,168.5 1366.9,169.7 C1367.7,170.9 1368.3,171.8 1368.1,173.4 C1367.9,175.1 1366.8,177.7 1365.6,179.6 C1364.4,181.5 1362.5,182.9 1360.7,184.6 C1358.9,186.3 1356.6,188.1 1354.5,189.6 C1352.4,191.1 1350.4,192.2 1348.3,193.3 C1346.2,194.4 1344.3,195.6 1342.0,196.4 C1339.7,197.2 1336.9,198.1 1334.6,198.3 C1332.3,198.5 1330.3,198.2 1328.4,197.6 C1326.5,197.0 1325.3,195.2 1323.4,194.5 C1321.5,193.8 1319.1,193.7 1317.2,193.3 C1315.3,192.9 1313.8,193.4 1312.3,192.0 C1310.8,190.6 1309.8,186.7 1308.5,184.6 C1307.2,182.5 1305.7,180.8 1304.8,179.6 C1303.9,178.4 1302.4,177.9 1303.0,177.2 C1303.6,176.5 1306.8,176.0 1308.5,175.3 C1310.2,174.6 1312.9,173.6 1312.9,172.8 C1312.9,172.0 1310.0,170.9 1308.5,170.3 C1307.0,169.7 1305.0,169.7 1303.6,169.1 C1302.2,168.5 1299.7,167.7 1299.9,166.6Z" fill="#d3cdea" filter="url(#soft)"/>
<text x="611.25" y="33.75" font-size="15" font-weight="bold" stroke="#111" stroke-width="0.5" text-anchor="start" textLength="278.25" lengthAdjust="spacingAndGlyphs" fill="#111" >Przeciętne trwanie życia mężczyzn</text>
<text x="611.25" y="51.00" font-size="15" font-weight="bold" stroke="#111" stroke-width="0.5" text-anchor="start" textLength="169.00" lengthAdjust="spacingAndGlyphs" fill="#111" >w wybranych krajach</text>
<text x="785.00" y="51.00" font-size="14" text-anchor="start" textLength="34.00" lengthAdjust="spacingAndGlyphs" fill="#333" >(lata)</text>
<path d="M1334.20,36.60 L1334.20,170.50 A11.55,2.9 0 0 0 1357.30,170.50 L1357.30,36.60 A11.55,2.9 0 0 0 1334.20,36.60Z" fill="url(#gp)"/><ellipse cx="1345.75" cy="36.60" rx="11.55" ry="2.9" fill="url(#gcap)"/>
<text x="1324.00" y="32.00" font-size="21" font-weight="bold" stroke="#0a0a0a" stroke-width="0.7" text-anchor="start" textLength="41.40" lengthAdjust="spacingAndGlyphs" fill="#0a0a0a" >81,6</text>
<ellipse cx="1115.5" cy="181.4" rx="26" ry="8.5" fill="url(#gsh)" opacity="0.2" filter="url(#blur4)"/><path d="M1135.50,76.00 L1135.50,189.00 A11.30,2.9 0 0 0 1158.10,189.00 L1158.10,76.00 A11.30,2.9 0 0 0 1135.50,76.00Z" fill="url(#gp)"/><ellipse cx="1146.80" cy="76.00" rx="11.30" ry="2.9" fill="url(#gcap)"/>
<text x="1126.25" y="67.50" font-size="21" font-weight="bold" stroke="#0a0a0a" stroke-width="0.7" text-anchor="start" textLength="45.00" lengthAdjust="spacingAndGlyphs" fill="#0a0a0a" >68,9</text>
<ellipse cx="699.0" cy="294.2" rx="26" ry="8.5" fill="url(#gsh)" opacity="0.2" filter="url(#blur4)"/><path d="M719.00,171.90 L719.00,301.85 A11.20,2.9 0 0 0 741.40,301.85 L741.40,171.90 A11.20,2.9 0 0 0 719.00,171.90Z" fill="url(#gp)"/><ellipse cx="730.20" cy="171.90" rx="11.20" ry="2.9" fill="url(#gcap)"/>
<text x="717.75" y="160.60" font-size="21" font-weight="bold" stroke="#0a0a0a" stroke-width="0.7" text-anchor="start" textLength="36.25" lengthAdjust="spacingAndGlyphs" fill="#0a0a0a" >79,1</text>
<ellipse cx="1011.5" cy="303.5" rx="26" ry="8.5" fill="url(#gshs)" opacity="0.36" filter="url(#blur4)"/><path d="M1031.50,191.40 L1031.50,311.10 A11.25,2.9 0 0 0 1054.00,311.10 L1054.00,191.40 A11.25,2.9 0 0 0 1031.50,191.40Z" fill="url(#gs)"/><ellipse cx="1042.75" cy="191.40" rx="11.25" ry="2.9" fill="url(#gcaps)"/>
<text x="1017.00" y="184.40" font-size="29" font-weight="bold" stroke="#0a0a0a" stroke-width="0.7" text-anchor="start" textLength="55.40" lengthAdjust="spacingAndGlyphs" fill="#0a0a0a" >72,7</text>
<ellipse cx="1218.1" cy="376.4" rx="26" ry="8.5" fill="url(#gsh)" opacity="0.2" filter="url(#blur4)"/><path d="M1238.10,274.80 L1238.10,384.00 A11.35,2.9 0 0 0 1260.80,384.00 L1260.80,274.80 A11.35,2.9 0 0 0 1238.10,274.80Z" fill="url(#gp)"/><ellipse cx="1249.45" cy="274.80" rx="11.35" ry="2.9" fill="url(#gcap)"/>
<text x="1230.60" y="263.75" font-size="21" font-weight="bold" stroke="#0a0a0a" stroke-width="0.7" text-anchor="start" textLength="38.80" lengthAdjust="spacingAndGlyphs" fill="#0a0a0a" >66,1</text>
<ellipse cx="854.5" cy="413.9" rx="26" ry="8.5" fill="url(#gsh)" opacity="0.2" filter="url(#blur4)"/><path d="M874.50,288.50 L874.50,421.50 A11.25,2.9 0 0 0 897.00,421.50 L897.00,288.50 A11.25,2.9 0 0 0 874.50,288.50Z" fill="url(#gp)"/><ellipse cx="885.75" cy="288.50" rx="11.25" ry="2.9" fill="url(#gcap)"/>
<text x="863.75" y="277.50" font-size="21" font-weight="bold" stroke="#0a0a0a" stroke-width="0.7" text-anchor="start" textLength="46.25" lengthAdjust="spacingAndGlyphs" fill="#0a0a0a" >80,6</text>
<ellipse cx="1145.0" cy="414.5" rx="26" ry="8.5" fill="url(#gsh)" opacity="0.2" filter="url(#blur4)"/><path d="M1165.00,312.30 L1165.00,422.10 A11.25,2.9 0 0 0 1187.50,422.10 L1187.50,312.30 A11.25,2.9 0 0 0 1165.00,312.30Z" fill="url(#gp)"/><ellipse cx="1176.25" cy="312.30" rx="11.25" ry="2.9" fill="url(#gcap)"/>
<text x="1165.60" y="303.10" font-size="21" font-weight="bold" stroke="#0a0a0a" stroke-width="0.7" text-anchor="start" textLength="23.15" lengthAdjust="spacingAndGlyphs" fill="#0a0a0a" >67</text>
<ellipse cx="895.0" cy="479.5" rx="26" ry="8.5" fill="url(#gsh)" opacity="0.2" filter="url(#blur4)"/><path d="M915.00,356.00 L915.00,487.10 A11.25,2.9 0 0 0 937.50,487.10 L937.50,356.00 A11.25,2.9 0 0 0 915.00,356.00Z" fill="url(#gp)"/><ellipse cx="926.25" cy="356.00" rx="11.25" ry="2.9" fill="url(#gcap)"/>
<text x="906.90" y="344.00" font-size="21" font-weight="bold" stroke="#0a0a0a" stroke-width="0.7" text-anchor="start" textLength="42.50" lengthAdjust="spacingAndGlyphs" fill="#0a0a0a" >79,8</text>
<ellipse cx="677.2" cy="566.4" rx="26" ry="8.5" fill="url(#gsh)" opacity="0.2" filter="url(#blur4)"/><path d="M697.25,443.50 L697.25,574.00 A11.23,2.9 0 0 0 719.70,574.00 L719.70,443.50 A11.23,2.9 0 0 0 697.25,443.50Z" fill="url(#gp)"/><ellipse cx="708.48" cy="443.50" rx="11.23" ry="2.9" fill="url(#gcap)"/>
<text x="690.25" y="434.40" font-size="21" font-weight="bold" stroke="#0a0a0a" stroke-width="0.7" text-anchor="start" textLength="41.65" lengthAdjust="spacingAndGlyphs" fill="#0a0a0a" >79,5</text>
<ellipse cx="1026.2" cy="538.9" rx="26" ry="8.5" fill="url(#gsh)" opacity="0.2" filter="url(#blur4)"/><path d="M1046.25,426.65 L1046.25,546.50 A11.33,2.9 0 0 0 1068.90,546.50 L1068.90,426.65 A11.33,2.9 0 0 0 1046.25,426.65Z" fill="url(#gp)"/><ellipse cx="1057.58" cy="426.65" rx="11.33" ry="2.9" fill="url(#gcap)"/>
<text x="1048.75" y="416.50" font-size="21" font-weight="bold" stroke="#0a0a0a" stroke-width="0.7" text-anchor="start" textLength="21.25" lengthAdjust="spacingAndGlyphs" fill="#0a0a0a" >73</text>
<text x="720.40" y="319.40" font-size="10.7" text-anchor="start" textLength="44.00" lengthAdjust="spacingAndGlyphs" fill="#15151f" stroke="#15151f" stroke-width="0.35">WIELKA</text>
<text x="720.40" y="333.40" font-size="10.7" text-anchor="start" textLength="57.70" lengthAdjust="spacingAndGlyphs" fill="#15151f" stroke="#15151f" stroke-width="0.35">BRYTANIA</text>
<text x="1310.80" y="189.60" font-size="10.7" text-anchor="start" textLength="54.20" lengthAdjust="spacingAndGlyphs" fill="#15151f" stroke="#15151f" stroke-width="0.35">ISLANDIA</text>
<text x="1138.10" y="208.75" font-size="10.7" text-anchor="start" textLength="42.90" lengthAdjust="spacingAndGlyphs" fill="#15151f" stroke="#15151f" stroke-width="0.35">ŁOTWA</text>
<text x="1031.20" y="328.80" font-size="10.7" text-anchor="start" textLength="44.80" lengthAdjust="spacingAndGlyphs" fill="#15151f" stroke="#15151f" stroke-width="0.35">POLSKA</text>
<text x="1236.90" y="402.75" font-size="10.7" text-anchor="start" textLength="53.75" lengthAdjust="spacingAndGlyphs" fill="#15151f" stroke="#15151f" stroke-width="0.35">UKRAINA</text>
<text x="1152.75" y="441.50" font-size="10.7" text-anchor="start" textLength="67.90" lengthAdjust="spacingAndGlyphs" fill="#15151f" stroke="#15151f" stroke-width="0.35">MOŁDAWIA</text>
<text x="831.25" y="439.00" font-size="10.7" text-anchor="start" textLength="73.75" lengthAdjust="spacingAndGlyphs" fill="#15151f" stroke="#15151f" stroke-width="0.35">SZWAJCARIA</text>
<text x="910.60" y="505.60" font-size="10.7" text-anchor="start" textLength="52.50" lengthAdjust="spacingAndGlyphs" fill="#15151f" stroke="#15151f" stroke-width="0.35">WŁOCHY</text>
<text x="697.25" y="595.00" font-size="10.7" text-anchor="start" textLength="61.25" lengthAdjust="spacingAndGlyphs" fill="#15151f" stroke="#15151f" stroke-width="0.35">HISZPANIA</text>
<text x="1040.90" y="564.40" font-size="10.7" text-anchor="start" textLength="50.60" lengthAdjust="spacingAndGlyphs" fill="#15151f" stroke="#15151f" stroke-width="0.35">ALBANIA</text>
<g fill="none" stroke="#d52b3b" stroke-width="1.4"><circle cx="613" cy="658.8" r="4.3"/><circle cx="624.85" cy="658.8" r="4.3"/></g>
<text x="613.1" y="661.4" font-size="7.2" font-weight="bold" text-anchor="middle" fill="#d52b3b" stroke="#d52b3b" stroke-width="0.4">C</text>
<text x="625" y="661.4" font-size="7.2" font-weight="bold" text-anchor="middle" fill="#d52b3b" stroke="#d52b3b" stroke-width="0.4">P</text>
<text x="634.7" y="662.8" font-size="6.6" font-weight="bold" fill="#1a1a1a" stroke="#1a1a1a" stroke-width="0.2" textLength="11.2" lengthAdjust="spacingAndGlyphs">MC</text>
</svg>
</body></html>
